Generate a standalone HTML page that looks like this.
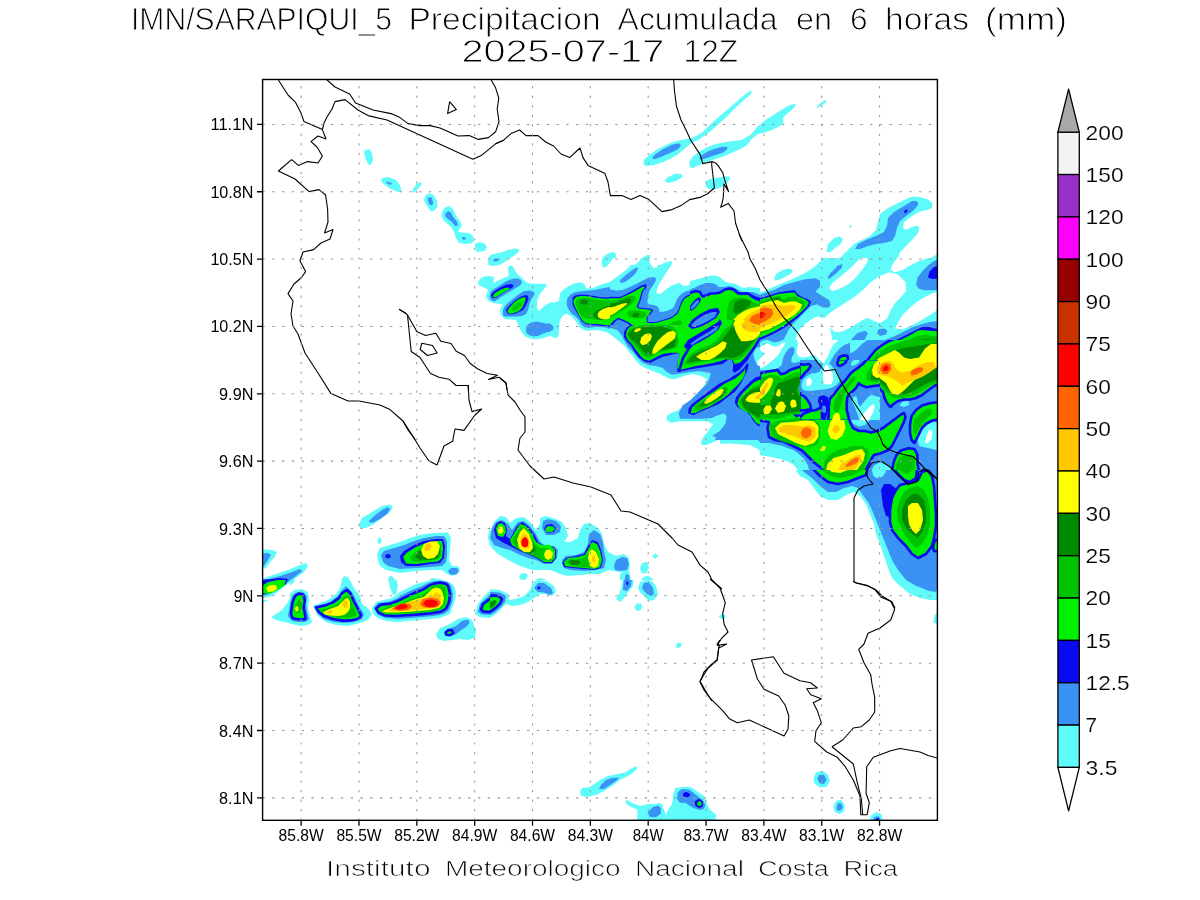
<!DOCTYPE html>
<html><head><meta charset="utf-8"><title>IMN/SARAPIQUI_5 Precipitacion Acumulada</title>
<style>
html,body{margin:0;padding:0;background:#fff;width:1200px;height:900px;overflow:hidden}
svg{display:block}
.gh{stroke:#999;stroke-width:1.05;stroke-dasharray:2.4 7.4;stroke-dashoffset:0.2}
.gv{stroke:#999;stroke-width:1.05;stroke-dasharray:2.2 7.31;stroke-dashoffset:0.4}
text{paint-order:normal}
</style></head><body>
<svg width="1200" height="900" viewBox="0 0 1200 900">
<defs><clipPath id="tc0"><rect x="260.00" y="78.00" width="240.00" height="180.00"/></clipPath><clipPath id="tc4"><rect x="260.00" y="430.00" width="230.00" height="150.00"/><rect x="260.00" y="580.00" width="30.00" height="20.00"/></clipPath><clipPath id="tc5"><rect x="490.00" y="430.00" width="230.00" height="150.00"/></clipPath><clipPath id="tc6"><rect x="290.00" y="580.00" width="200.00" height="20.00"/><rect x="260.00" y="600.00" width="230.00" height="100.00"/></clipPath><clipPath id="tc7"><rect x="490.00" y="580.00" width="230.00" height="120.00"/></clipPath><clipPath id="tc8"><rect x="500.00" y="78.00" width="240.00" height="180.00"/></clipPath><clipPath id="tc10"><rect x="470.00" y="250.00" width="80.00" height="90.00"/></clipPath><clipPath id="tc11"><rect x="550.00" y="250.00" width="60.00" height="90.00"/><rect x="610.00" y="250.00" width="30.00" height="15.00"/></clipPath><clipPath id="tc12"><rect x="610.00" y="265.00" width="80.00" height="60.00"/></clipPath><clipPath id="tc13"><rect x="640.00" y="250.00" width="50.00" height="15.00"/><rect x="690.00" y="250.00" width="70.00" height="70.00"/></clipPath><clipPath id="tc14"><rect x="610.00" y="325.00" width="80.00" height="15.00"/><rect x="690.00" y="320.00" width="70.00" height="20.00"/><rect x="600.00" y="340.00" width="160.00" height="100.00"/></clipPath><clipPath id="tc16"><rect x="740.00" y="78.00" width="240.00" height="180.00"/></clipPath><clipPath id="tc18"><rect x="760.00" y="258.00" width="180.00" height="82.00"/></clipPath><clipPath id="tc19"><rect x="850.00" y="340.00" width="90.00" height="130.00"/><rect x="760.00" y="405.00" width="90.00" height="65.00"/></clipPath><clipPath id="tc20"><rect x="760.00" y="340.00" width="90.00" height="65.00"/></clipPath><clipPath id="tc22"><rect x="720.00" y="440.00" width="40.00" height="170.00"/><rect x="760.00" y="470.00" width="180.00" height="140.00"/></clipPath><clipPath id="tc25"><rect x="800.00" y="360.00" width="80.00" height="60.00"/></clipPath><clipPath id="mc"><rect x="262.60" y="79.50" width="674.80" height="740.80"/></clipPath></defs>
<rect width="1200" height="900" fill="#fff"/>
<g clip-path="url(#mc)">
<g fill="#5ffbfb"><path d="M365.0 150.0 L369.6 149.0 L372.0 153.0 L373.0 160.0 L370.4 165.6 L368.0 164.0 L365.0 157.0 L364.0 152.0ZM382.0 178.0 L388.0 177.0 L396.0 180.0 L400.0 185.0 L401.6 191.6 L398.0 192.0 L390.0 188.4 L383.0 183.6 L381.0 180.4ZM413.0 189.0 L417.0 183.6 L420.0 182.0 L422.0 184.0 L419.0 187.6 L414.0 193.0 L412.4 192.0ZM425.0 196.0 L429.0 193.0 L433.6 195.0 L437.0 201.0 L437.6 207.0 L434.0 211.0 L431.0 211.6 L427.0 206.0 L424.0 200.0ZM442.0 212.0 L445.0 207.6 L449.6 206.0 L453.0 209.0 L456.0 216.0 L460.0 221.0 L462.0 226.0 L460.0 228.0 L458.0 232.0 L462.0 232.4 L469.0 233.0 L473.0 236.0 L474.0 241.0 L471.0 243.6 L465.0 244.0 L459.0 243.0 L456.0 238.0 L454.0 232.0 L451.0 227.0 L448.0 224.0 L444.0 221.0 L441.6 216.0ZM475.0 243.6 L480.0 242.0 L485.0 244.0 L487.0 247.6 L484.0 251.0 L478.0 250.4 L475.0 248.0ZM490.0 260.0 L490.0 258.0 L492.0 255.0 L497.0 254.0 L502.0 253.6 L502.0 260.0Z" clip-path="url(#tc0)"/><path d="M359.0 524.0 L362.0 518.0 L372.0 512.0 L382.0 506.0 L390.0 504.4 L393.0 507.0 L390.0 512.0 L382.0 518.0 L374.0 524.0 L366.0 528.0 L360.0 528.0ZM377.6 540.0 L379.0 537.4 L381.0 538.0 L381.6 542.0 L379.6 544.0 L377.6 543.0ZM377.0 554.0 L380.0 548.0 L390.0 545.0 L400.0 542.0 L410.0 538.0 L420.0 535.0 L432.0 533.0 L448.0 532.4 L451.0 538.0 L450.0 550.0 L449.0 560.0 L452.0 566.0 L458.0 566.0 L460.0 570.0 L458.0 574.0 L452.0 576.0 L447.0 574.0 L442.0 570.0 L430.0 570.0 L416.0 571.0 L400.0 573.0 L386.0 570.0 L380.0 566.0 L378.0 560.0ZM258.0 550.0 L266.0 549.6 L272.0 550.0 L277.0 552.0 L274.0 558.0 L270.0 562.0 L266.0 568.0 L258.0 570.0ZM258.0 582.0 L264.0 578.0 L276.0 574.0 L288.0 570.0 L300.0 565.0 L306.0 563.0 L308.0 566.0 L304.0 572.0 L296.0 578.0 L288.0 584.0 L280.0 590.0 L272.0 596.0 L264.0 598.0 L258.0 599.0ZM288.0 612.0 L290.0 596.0 L296.0 590.0 L303.0 591.0 L308.0 596.0 L309.0 612.0ZM318.0 612.0 L320.0 602.0 L330.0 598.0 L338.0 590.0 L340.0 582.0 L344.0 576.0 L348.0 577.0 L352.0 584.0 L356.0 590.0 L360.0 594.0 L362.0 612.0ZM372.0 612.0 L376.0 604.0 L388.0 598.0 L400.0 594.0 L412.0 590.0 L424.0 584.0 L432.0 578.0 L440.0 579.0 L450.0 582.0 L456.0 588.0 L458.0 596.0 L460.0 612.0ZM388.0 578.0 L391.0 575.6 L394.0 578.0 L398.0 588.0 L397.0 594.0 L393.0 593.0 L390.0 586.0ZM488.0 538.0 L490.0 524.0 L496.0 516.0 L502.0 514.0 L502.0 554.0 L496.0 550.0 L490.0 546.0Z" clip-path="url(#tc4)"/><path d="M488.0 542.0 L490.0 532.0 L494.0 522.0 L500.0 516.0 L506.0 517.0 L510.0 523.0 L516.0 518.0 L524.0 517.0 L530.0 522.0 L536.0 530.0 L540.0 524.0 L540.0 518.0 L546.0 516.0 L556.0 519.0 L562.0 522.0 L566.0 528.0 L568.0 536.0 L564.0 542.0 L570.0 542.0 L578.0 538.0 L580.0 530.0 L584.0 524.0 L590.0 523.0 L598.0 528.0 L602.0 534.0 L604.0 544.0 L608.0 552.0 L616.0 556.0 L624.0 554.0 L629.0 558.0 L630.0 568.0 L629.0 570.0 L620.0 572.0 L608.0 570.0 L600.0 574.0 L592.0 574.0 L580.0 575.0 L568.0 576.0 L560.0 574.0 L550.0 570.0 L544.0 570.0 L532.0 570.0 L520.0 566.0 L508.0 560.0 L498.0 554.0 L492.0 548.0ZM532.0 586.0 L534.0 580.0 L540.0 578.0 L548.0 580.0 L554.0 586.0 L555.0 592.0 L550.0 596.0 L542.0 596.0 L535.0 592.0ZM620.0 574.0 L624.0 570.0 L629.0 570.0 L631.0 580.0 L630.0 590.0 L628.0 598.0 L622.0 602.0 L618.0 598.0 L619.0 588.0 L620.0 580.0ZM571.6 545.0 L573.0 543.4 L575.0 544.4 L574.0 546.6 L572.0 546.6ZM519.0 577.0 L521.0 573.6 L526.0 573.2 L528.0 576.0 L525.6 579.6 L521.0 580.0ZM652.0 556.4 L655.0 553.6 L658.4 556.0 L655.6 559.0ZM640.0 568.0 L642.0 563.0 L647.0 562.0 L649.0 568.0 L646.0 573.6 L641.6 573.0ZM639.0 586.0 L642.0 578.0 L648.0 575.6 L654.0 580.0 L658.0 590.0 L656.0 600.0 L650.0 602.0 L644.0 598.0 L640.0 592.0ZM634.0 612.0 L636.0 605.0 L640.0 603.0 L642.4 606.0 L641.6 612.0ZM701.0 442.0 L704.0 436.0 L712.0 432.0 L720.0 429.0 L722.0 429.0 L722.0 438.0 L714.0 442.0 L706.0 445.0 L702.0 445.0ZM478.0 602.0 L484.0 594.0 L492.0 591.0 L502.0 592.0 L508.0 596.0 L506.0 602.0 L500.0 606.0 L492.0 612.0 L478.0 612.0ZM508.0 612.0 L514.0 604.0 L526.0 599.0 L536.0 597.0 L546.0 598.0 L556.0 602.0 L564.0 606.0 L568.0 612.0Z" clip-path="url(#tc5)"/><path d="M258.0 578.0 L296.0 578.0 L294.0 582.0 L288.0 588.0 L280.0 594.0 L272.0 599.0 L264.0 602.0 L258.0 604.0ZM271.0 617.0 L276.0 614.0 L282.0 610.0 L288.0 602.0 L290.0 594.0 L294.0 590.0 L302.0 589.0 L308.0 592.0 L309.0 600.0 L308.0 608.0 L310.0 616.0 L312.0 622.0 L308.0 625.0 L300.0 626.0 L292.0 624.0 L284.0 622.0 L276.0 620.0ZM313.0 606.0 L318.0 604.0 L328.0 600.0 L336.0 594.0 L340.0 588.0 L342.0 580.0 L350.0 580.0 L354.0 588.0 L360.0 596.0 L362.0 604.0 L368.0 608.0 L372.0 614.0 L368.0 620.0 L360.0 623.0 L348.0 626.0 L336.0 625.0 L326.0 622.0 L318.0 616.0ZM372.0 608.0 L376.0 602.0 L384.0 600.0 L392.0 598.0 L400.0 592.0 L408.0 588.0 L416.0 584.0 L424.0 582.0 L430.0 580.4 L436.0 579.4 L444.0 580.4 L451.0 583.0 L454.0 586.0 L456.0 592.0 L455.0 600.0 L452.0 608.0 L450.0 614.0 L440.0 618.0 L430.0 619.0 L420.0 620.0 L408.0 621.0 L396.0 622.0 L386.0 621.0 L378.0 618.0 L373.0 614.0ZM436.0 634.0 L440.0 628.0 L448.0 625.0 L458.0 619.0 L466.0 617.0 L472.0 620.0 L476.0 630.0 L475.0 638.0 L468.0 640.0 L460.0 639.0 L452.0 640.0 L444.0 641.0 L438.0 639.0ZM475.0 614.0 L478.0 604.0 L484.0 596.0 L490.0 591.0 L502.0 588.0 L502.0 618.0 L490.0 618.0 L480.0 617.0ZM388.0 578.0 L396.0 578.0 L398.0 586.0 L396.0 594.0 L393.0 595.0 L390.0 588.0Z" clip-path="url(#tc6)"/><path d="M478.0 620.0 L478.0 600.0 L484.0 594.0 L490.0 589.0 L500.0 590.0 L508.0 594.0 L509.0 600.0 L516.0 599.0 L524.0 596.0 L530.0 590.0 L533.0 582.0 L538.0 580.0 L546.0 581.0 L554.0 586.0 L556.0 592.0 L552.0 596.0 L546.0 594.0 L540.0 594.0 L534.0 598.0 L528.0 602.0 L520.0 605.0 L512.0 606.0 L506.0 604.0 L502.0 608.0 L496.0 614.0 L488.0 619.0ZM616.0 599.0 L620.0 592.0 L622.0 584.0 L623.0 578.0 L634.0 578.0 L633.0 586.0 L628.0 592.0 L624.0 598.0 L620.0 602.0ZM638.0 588.0 L640.0 582.0 L646.0 580.0 L652.0 581.0 L656.0 586.0 L658.0 594.0 L654.0 600.0 L649.0 601.0 L644.0 596.0 L640.0 592.0ZM634.4 607.0 L637.0 603.6 L641.0 603.6 L642.4 607.0 L640.0 610.4 L636.0 610.4ZM676.0 645.0 L678.0 642.4 L681.0 643.0 L681.6 646.0 L679.0 648.0 L676.4 647.6Z" clip-path="url(#tc7)"/><path d="M664.4 181.0 L668.0 177.0 L676.0 173.6 L682.0 174.4 L682.4 177.0 L676.0 181.0 L668.0 183.0ZM705.6 183.0 L708.0 179.6 L716.0 178.0 L724.0 176.4 L730.0 176.4 L730.0 179.0 L727.0 183.0 L722.0 187.0 L716.0 189.0 L710.0 189.4 L706.0 187.0ZM500.0 254.0 L506.0 251.0 L514.0 248.4 L519.0 249.6 L517.0 253.6 L512.0 257.0 L508.0 259.0 L500.0 259.0ZM603.0 259.0 L606.0 255.0 L612.0 252.4 L615.6 253.6 L616.0 259.0ZM643.0 259.0 L647.0 255.6 L650.0 255.0 L650.4 259.0Z" clip-path="url(#tc8)"/><path d="M643.3 164.0 L644.0 160.0 L649.3 154.7 L658.7 148.7 L668.0 144.0 L677.3 140.7 L684.0 139.6 L693.3 137.6 L702.7 132.0 L712.0 122.7 L721.3 114.7 L730.7 106.7 L740.0 98.7 L746.7 93.3 L750.7 90.4 L752.0 92.0 L750.0 95.3 L744.0 100.0 L736.0 107.3 L726.7 116.7 L717.3 125.3 L708.0 133.3 L700.0 138.7 L692.0 142.7 L685.3 148.0 L677.3 154.7 L670.7 158.7 L661.3 162.7 L653.3 165.3 L645.3 166.0ZM689.6 167.3 L689.3 161.3 L692.7 156.7 L698.7 152.0 L706.7 147.3 L716.0 144.0 L725.3 142.0 L736.0 140.7 L741.3 140.0 L750.7 134.7 L757.3 126.7 L766.7 119.3 L780.0 110.7 L789.3 105.3 L795.3 103.7 L795.7 106.0 L790.7 110.7 L785.3 115.3 L782.7 118.7 L783.7 122.7 L780.0 126.0 L772.0 130.0 L764.0 132.7 L758.0 134.0 L752.0 138.7 L746.7 145.3 L741.3 148.7 L732.0 152.7 L722.7 156.7 L714.7 159.3 L706.7 162.0 L698.7 165.3 L693.3 168.0Z"/><path d="M475.0 249.5 L475.0 250.0 L476.0 251.5 L480.0 251.8 L486.0 250.5 L486.5 249.5ZM488.5 265.0 L488.0 261.0 L489.0 257.0 L491.5 254.5 L496.0 253.5 L501.0 252.5 L505.0 251.2 L508.0 249.5 L520.0 249.5 L518.0 252.0 L514.0 255.0 L510.0 258.0 L506.0 261.0 L502.0 263.5 L498.0 265.5 L493.0 266.0 L489.5 265.5ZM478.0 282.0 L480.0 279.0 L484.0 276.5 L488.5 276.0 L492.5 276.5 L494.0 278.0 L493.8 281.0 L493.2 283.0 L497.0 281.5 L501.0 279.0 L504.5 277.5 L508.5 276.2 L508.5 273.0 L508.0 268.0 L509.5 265.2 L512.5 266.0 L514.5 269.5 L516.5 273.0 L519.0 275.5 L522.0 278.0 L525.0 281.0 L528.0 283.0 L532.0 283.8 L540.0 283.8 L546.5 284.2 L547.0 285.5 L544.5 288.5 L541.5 292.0 L539.5 295.0 L538.0 298.0 L537.0 301.0 L537.2 306.0 L537.2 310.0 L539.5 310.5 L542.0 308.0 L546.0 304.8 L550.0 302.8 L555.0 302.5 L558.0 301.0 L560.0 298.0 L561.0 292.0 L565.0 290.0 L565.0 341.0 L557.0 338.0 L554.0 337.5 L551.0 336.0 L546.0 337.0 L540.0 339.0 L535.0 339.5 L530.0 338.5 L526.0 337.0 L523.0 334.0 L520.0 329.0 L518.0 324.0 L516.0 320.0 L512.0 319.5 L508.0 319.5 L504.0 318.5 L501.0 315.0 L500.0 311.0 L501.0 307.0 L503.0 304.0 L500.0 304.0 L496.0 303.5 L492.0 302.5 L488.5 301.0 L486.5 298.5 L486.0 295.5 L487.5 292.0 L488.0 289.5 L485.0 288.0 L481.0 286.5 L478.5 285.0Z" clip-path="url(#tc10)"/><path d="M601.5 263.0 L602.0 259.0 L604.5 256.0 L609.0 253.0 L613.5 252.0 L615.5 253.5 L614.0 257.0 L611.0 261.0 L608.0 265.0 L605.0 267.5 L602.5 267.0ZM549.0 302.0 L554.0 302.5 L559.0 301.0 L560.0 293.0 L563.0 290.0 L568.0 286.5 L574.0 283.5 L579.0 282.5 L583.0 283.0 L585.5 286.0 L586.0 288.5 L590.0 288.5 L594.0 287.5 L600.0 285.0 L606.0 283.0 L612.0 281.5 L618.0 279.0 L622.0 276.0 L627.0 271.5 L632.0 267.5 L637.0 263.0 L642.0 259.0 L647.0 256.0 L649.0 255.5 L649.5 262.0 L651.0 265.5 L654.0 267.5 L658.0 265.0 L662.0 262.5 L666.0 261.0 L670.0 260.5 L671.0 260.5 L671.0 341.0 L619.0 341.0 L616.0 338.0 L612.0 335.0 L606.0 332.0 L600.0 330.5 L594.0 330.0 L588.0 331.0 L584.0 330.0 L580.0 327.5 L577.0 323.0 L574.0 319.0 L571.0 316.0 L567.0 314.0 L564.0 314.5 L561.0 318.0 L559.5 323.0 L559.0 330.0 L558.5 336.0 L557.0 338.0 L554.0 337.5 L551.0 336.0 L549.0 335.0Z" clip-path="url(#tc11)"/><path d="M609.3 264.3 L690.7 264.3 L690.7 325.7 L609.3 325.7Z" clip-path="url(#tc12)"/><path d="M639.0 259.5 L640.0 259.0 L646.0 255.5 L650.0 255.0 L649.5 261.0 L651.0 266.0 L655.0 268.0 L660.0 265.0 L666.0 262.0 L672.0 261.0 L671.5 266.0 L668.0 272.0 L664.0 279.0 L660.0 285.0 L656.5 291.0 L657.0 294.0 L660.0 295.0 L666.0 292.0 L672.0 289.5 L677.0 287.5 L680.0 286.0 L682.0 284.0 L690.0 281.0 L698.0 279.0 L705.0 277.0 L710.0 275.8 L715.0 275.5 L720.0 277.0 L723.0 280.0 L726.0 282.0 L730.0 283.0 L736.0 284.0 L741.0 287.0 L744.0 288.0 L748.0 287.0 L753.0 287.5 L761.0 288.0 L761.0 341.0 L639.0 341.0Z" clip-path="url(#tc13)"/><path d="M598.7 318.7 L761.3 318.7 L761.3 441.3 L702.7 441.3 L702.7 438.7 L705.3 434.7 L709.3 429.3 L713.3 424.0 L706.7 421.3 L698.7 421.3 L690.7 421.3 L680.0 421.3 L670.7 422.7 L666.7 420.0 L666.7 416.0 L670.7 413.3 L677.3 410.7 L685.3 405.3 L690.7 400.0 L696.0 394.7 L701.3 389.3 L705.3 384.0 L706.7 378.7 L701.3 376.0 L693.3 374.0 L686.7 375.3 L680.0 377.3 L674.7 379.3 L669.3 378.7 L664.0 376.0 L658.7 373.3 L653.3 371.3 L646.7 368.7 L640.0 365.3 L634.7 358.7 L629.3 352.0 L624.0 345.3 L617.3 340.0 L610.7 334.7 L604.0 330.7 L598.7 329.3Z" clip-path="url(#tc14)"/><path d="M816.4 107.6 L820.0 103.6 L824.0 100.4 L827.0 100.4 L825.0 103.0 L820.0 106.4 L817.0 108.0ZM826.4 252.0 L828.0 244.0 L834.0 238.0 L840.0 236.4 L843.0 239.0 L841.0 244.0 L835.0 248.0 L830.0 252.4ZM840.0 260.0 L840.0 258.0 L848.0 250.0 L854.0 244.0 L862.0 240.0 L870.0 236.0 L876.0 230.0 L878.0 222.0 L880.0 214.0 L888.0 208.0 L900.0 202.0 L912.0 196.4 L920.0 197.0 L928.0 199.6 L932.4 203.0 L932.0 208.0 L927.0 210.0 L920.0 211.6 L912.0 216.0 L904.0 222.0 L903.0 227.0 L905.0 230.0 L910.0 228.0 L916.0 225.6 L919.6 227.6 L918.0 233.0 L912.0 240.0 L906.0 246.0 L900.0 252.0 L898.0 258.0 L898.0 260.0ZM930.0 260.0 L932.0 257.0 L936.0 255.0 L940.0 253.6 L940.0 260.0ZM849.0 227.0 L850.4 225.0 L852.0 226.0 L850.6 228.0Z" clip-path="url(#tc16)"/><path d="M758.5 238.5 L941.5 238.5 L941.5 346.5 L758.5 346.5Z" clip-path="url(#tc18)"/><path d="M758.5 333.5 L941.5 333.5 L941.5 471.5 L758.5 471.5Z" clip-path="url(#tc19)"/><path d="M749.2 329.2 L850.8 329.2 L850.8 405.8 L749.2 405.8Z" clip-path="url(#tc20)"/><path d="M698.0 428.0 L942.0 428.0 L942.0 600.0 L930.0 600.0 L920.0 598.0 L910.0 594.0 L900.0 586.0 L892.0 578.0 L888.0 568.0 L884.0 556.0 L880.0 544.0 L876.0 534.0 L874.0 524.0 L870.0 514.0 L866.0 504.0 L860.0 496.0 L854.0 492.0 L848.0 494.0 L838.0 500.0 L828.0 500.0 L820.0 496.0 L814.0 488.0 L808.0 480.0 L800.0 476.0 L792.0 466.0 L780.0 458.0 L770.0 456.0 L762.0 452.0 L756.0 448.0 L750.0 445.0 L730.0 443.6 L712.0 444.0 L702.0 444.4 L698.0 444.4Z" clip-path="url(#tc22)"/><path d="M718.7 616.5 L721.3 614.1 L724.8 614.7 L725.3 617.9 L722.1 619.2ZM900.0 578.7 L904.0 585.3 L912.0 592.0 L922.7 597.3 L933.3 600.0 L940.0 598.7 L940.0 578.7ZM933.3 622.7 L934.7 614.7 L940.0 610.7 L940.0 624.0ZM813.3 778.7 L816.0 772.5 L822.7 770.7 L828.0 774.7 L829.9 781.3 L826.7 786.7 L820.0 787.5 L814.7 784.0ZM833.3 806.7 L836.0 800.8 L841.3 800.0 L844.8 805.3 L844.0 811.5 L839.5 813.9 L834.7 812.0ZM869.3 822.7 L870.7 816.0 L876.0 812.0 L881.3 814.1 L883.2 822.7ZM637.3 806.7 L648.0 804.0 L658.7 804.0 L664.0 809.3 L666.7 817.3 L672.0 809.3 L673.3 793.3 L677.3 788.0 L688.0 786.7 L696.0 790.7 L704.0 796.0 L708.0 806.7 L712.0 812.0 L716.0 816.0 L714.7 822.7 L637.3 822.7Z"/><path d="M580.0 792.0 L582.0 788.0 L590.0 787.0 L600.0 780.0 L608.0 776.0 L618.0 774.0 L626.0 772.0 L632.0 768.0 L636.0 766.0 L637.6 768.0 L634.0 772.0 L628.0 776.0 L620.0 780.0 L612.0 786.0 L604.0 791.0 L596.0 795.0 L586.0 797.0 L581.0 795.6ZM625.0 802.0 L627.0 800.0 L632.0 803.0 L640.0 806.0 L648.0 807.0 L654.0 804.0 L660.0 803.0 L663.0 805.0 L662.4 811.0 L658.0 814.4 L652.0 815.0 L644.0 813.0 L636.0 809.0 L629.0 806.0ZM666.0 815.0 L668.0 810.0 L672.0 804.0 L674.0 794.0 L675.0 788.0 L684.0 787.0 L692.0 787.6 L696.0 791.0 L700.0 794.0 L704.0 798.0 L707.0 804.0 L710.0 810.0 L714.0 813.0 L717.0 816.0 L714.0 818.0 L710.0 815.0 L706.0 812.0 L700.0 812.0 L694.0 810.0 L688.0 806.0 L682.0 804.0 L678.0 808.0 L676.0 814.0 L674.0 819.0 L669.0 819.0Z"/></g><g fill="#ffffff"><path d="M609.3 264.3 L630.3 264.3 L628.7 267.7 L624.7 271.0 L619.3 275.0 L614.0 279.0 L609.3 282.0ZM651.0 264.3 L653.3 267.7 L656.7 267.7 L658.3 264.3ZM672.0 264.3 L668.7 269.0 L666.0 273.0 L662.7 278.3 L659.3 283.7 L656.7 289.7 L656.7 293.0 L660.0 294.3 L663.3 291.7 L667.3 288.3 L671.3 285.7 L675.3 284.3 L678.7 283.0 L681.3 283.7 L682.7 285.7 L686.7 285.7 L690.7 285.0 L690.7 264.3Z" clip-path="url(#tc12)"/><path d="M761.3 358.7 L758.0 360.0 L757.3 364.0 L759.3 366.7 L761.3 367.3Z" clip-path="url(#tc14)"/><path d="M758.5 238.5 L826.8 238.5 L826.0 246.0 L826.8 252.8 L823.0 258.0 L817.0 264.8 L811.0 269.2 L805.0 273.0 L799.0 276.0 L793.0 278.7 L787.0 281.2 L778.0 285.0 L769.0 288.8 L763.0 291.8 L758.5 292.5ZM842.5 238.5 L843.2 243.0 L845.5 247.5 L850.0 249.0 L854.5 247.5 L856.0 243.0 L856.8 238.5ZM829.0 288.0 L832.0 283.5 L841.0 276.0 L850.0 268.5 L859.0 259.5 L865.0 255.0 L868.0 256.5 L867.2 262.5 L862.0 270.0 L854.5 279.0 L847.0 285.0 L838.0 289.5 L832.0 291.0ZM824.5 318.0 L829.0 313.5 L838.0 307.5 L847.0 301.5 L854.5 297.0 L863.5 289.5 L871.0 282.0 L880.0 276.0 L889.0 272.2 L898.0 274.5 L905.5 282.0 L906.2 291.0 L901.0 297.0 L895.0 303.0 L890.5 310.5 L887.5 318.0 L880.0 323.2 L874.0 321.0 L868.0 318.0 L863.5 319.5 L857.5 323.2 L850.0 327.8 L842.5 331.5 L835.0 332.2 L829.0 327.0 L826.0 322.5ZM910.0 238.5 L908.5 243.0 L904.0 249.0 L899.5 255.0 L895.0 261.0 L892.0 265.5 L890.5 270.0 L895.0 272.2 L902.5 270.0 L910.0 265.5 L919.0 261.0 L928.0 258.0 L938.5 255.0 L938.5 238.5ZM895.0 328.5 L898.0 322.5 L902.5 315.0 L910.0 307.5 L917.5 301.5 L925.0 297.0 L932.5 293.2 L938.5 291.8 L938.5 309.0 L932.5 313.5 L925.0 318.0 L917.5 322.5 L910.0 326.2 L902.5 329.2ZM794.5 346.5 L796.0 337.5 L799.0 330.0 L805.0 324.0 L811.0 319.5 L817.0 316.5 L824.5 318.0 L827.5 324.0 L830.5 330.0 L832.0 337.5 L830.5 346.5Z" clip-path="url(#tc18)"/><path d="M925.0 447.0 L927.0 440.0 L932.0 435.0 L942.0 433.0 L942.0 446.0 L932.0 449.0Z" clip-path="url(#tc22)"/></g><g fill="#5ffbfb"><path d="M774.2 278.2 L776.5 273.8 L782.5 270.0 L790.0 268.5 L793.0 270.8 L790.8 273.8 L785.5 276.8 L779.5 279.8 L775.0 280.5Z" clip-path="url(#tc18)"/></g><g fill="#3a92f5"><path d="M386.0 181.6 L392.0 183.0 L391.0 185.0 L387.0 183.6ZM427.6 197.6 L431.6 197.6 L433.2 203.0 L432.0 205.4 L429.0 204.0 L428.0 200.4ZM445.0 214.0 L448.0 211.0 L451.0 212.4 L453.0 217.0 L457.0 221.6 L458.0 225.6 L455.0 226.0 L452.0 222.0 L448.0 219.0 L445.6 217.0ZM462.0 237.0 L465.0 237.0 L466.0 239.6 L462.4 239.6Z" clip-path="url(#tc0)"/><path d="M369.0 521.0 L374.0 516.0 L382.0 510.0 L388.0 507.0 L390.0 509.0 L387.0 514.0 L380.0 519.0 L373.0 522.4 L370.0 522.4ZM381.0 555.0 L384.0 551.0 L394.0 548.0 L404.0 545.0 L414.0 541.0 L424.0 538.0 L436.0 536.0 L444.0 536.0 L447.0 541.0 L447.0 554.0 L446.0 562.0 L442.0 566.0 L430.0 567.0 L416.0 568.0 L400.0 569.0 L388.0 566.0 L383.0 562.0ZM448.0 571.0 L451.0 568.0 L457.0 568.0 L459.0 571.0 L456.0 574.4 L450.0 574.4ZM258.0 554.0 L268.0 553.0 L271.0 555.0 L268.0 560.0 L264.0 566.0 L258.0 568.0ZM258.0 582.0 L268.0 579.0 L280.0 576.0 L292.0 572.0 L300.0 569.0 L302.0 571.0 L296.0 576.0 L288.0 582.0 L280.0 588.0 L272.0 593.0 L264.0 596.0 L258.0 597.0ZM290.0 612.0 L292.0 598.0 L298.0 593.0 L303.0 594.0 L306.0 600.0 L307.0 612.0ZM324.0 612.0 L328.0 604.0 L336.0 600.0 L340.0 592.0 L344.0 584.0 L348.0 586.0 L352.0 592.0 L356.0 598.0 L358.0 612.0ZM376.0 612.0 L382.0 606.0 L392.0 602.0 L404.0 598.0 L416.0 593.0 L426.0 587.0 L432.0 582.0 L440.0 582.0 L448.0 586.0 L453.0 592.0 L454.0 602.0 L455.0 612.0ZM492.0 538.0 L494.0 526.0 L498.0 520.0 L502.0 518.0 L502.0 550.0 L496.0 546.0Z" clip-path="url(#tc4)"/><path d="M490.0 538.0 L492.0 528.0 L496.0 522.0 L502.0 520.0 L508.0 524.0 L512.0 530.0 L518.0 522.0 L524.0 521.0 L530.0 526.0 L536.0 534.0 L540.0 542.0 L546.0 546.0 L554.0 546.0 L558.0 550.0 L557.0 558.0 L552.0 564.0 L544.0 564.0 L536.0 560.0 L528.0 558.0 L518.0 554.0 L510.0 550.0 L502.0 548.0 L494.0 545.0ZM542.0 528.0 L543.0 521.0 L548.0 519.0 L556.0 521.0 L561.0 526.0 L560.0 532.0 L554.0 535.0 L546.0 535.0ZM562.0 560.0 L566.0 556.0 L576.0 555.0 L584.0 552.0 L588.0 544.0 L589.0 534.0 L594.0 530.0 L600.0 534.0 L603.0 542.0 L604.0 552.0 L606.0 560.0 L604.0 568.0 L596.0 570.0 L584.0 571.0 L570.0 570.0 L564.0 568.0ZM614.0 566.0 L616.0 560.0 L622.0 557.0 L627.0 558.0 L629.0 564.0 L627.0 570.0 L620.0 571.0 L615.0 570.0ZM624.0 582.0 L626.0 574.0 L629.0 575.0 L630.0 584.0 L628.0 590.0 L625.0 590.0ZM533.0 588.0 L536.0 582.0 L542.0 581.0 L549.0 584.0 L552.0 589.0 L549.0 593.0 L541.0 593.0 L536.0 592.0ZM642.0 586.0 L644.0 581.0 L649.0 581.0 L654.0 588.0 L655.0 596.0 L651.0 599.0 L646.0 596.0 L643.0 591.0ZM712.0 436.0 L718.0 432.0 L722.0 431.0 L722.0 437.0 L716.0 437.0ZM482.0 604.0 L488.0 596.0 L496.0 594.0 L503.0 596.0 L502.0 601.0 L496.0 605.0 L488.0 612.0 L480.0 612.0Z" clip-path="url(#tc5)"/><path d="M258.0 578.0 L288.0 578.0 L284.0 584.0 L276.0 591.0 L268.0 596.0 L258.0 599.0ZM288.0 616.0 L290.0 604.0 L292.0 596.0 L296.0 592.4 L303.0 592.0 L307.0 596.0 L306.0 604.0 L307.0 612.0 L309.0 619.0 L305.0 622.0 L298.0 622.0 L292.0 621.0ZM314.0 606.0 L320.0 605.0 L330.0 602.0 L338.0 596.0 L342.0 590.0 L346.0 586.0 L352.0 592.0 L356.0 600.0 L360.0 608.0 L364.0 614.0 L362.0 619.0 L354.0 622.0 L344.0 623.0 L334.0 622.0 L324.0 619.0 L317.0 613.0ZM374.0 608.0 L378.0 603.0 L388.0 602.0 L396.0 599.0 L404.0 594.0 L412.0 590.0 L420.0 587.0 L428.0 583.0 L432.0 581.6 L440.0 580.8 L448.0 582.0 L451.0 586.0 L453.0 594.0 L452.0 602.0 L449.0 610.0 L444.0 614.0 L434.0 616.0 L422.0 617.0 L410.0 618.0 L398.0 619.0 L386.0 618.0 L378.0 615.0ZM444.0 633.0 L448.0 629.0 L456.0 626.0 L462.0 621.0 L468.0 619.6 L469.6 623.0 L466.0 627.0 L460.0 631.0 L455.0 635.0 L448.0 636.0 L445.0 635.6ZM478.0 612.0 L480.0 604.0 L486.0 598.0 L492.0 594.0 L502.0 592.0 L502.0 614.0 L492.0 615.0 L482.0 614.4Z" clip-path="url(#tc6)"/><path d="M478.0 616.0 L478.0 602.0 L484.0 597.0 L490.0 592.0 L500.0 592.4 L506.0 596.0 L505.0 602.0 L500.0 608.0 L494.0 613.0 L486.0 617.0ZM534.0 588.0 L538.0 583.0 L544.0 583.0 L551.0 588.0 L553.0 593.0 L550.0 595.0 L544.0 592.4 L538.0 592.0ZM623.0 590.0 L624.0 578.0 L632.0 578.0 L631.0 586.0 L627.0 591.0ZM642.0 588.0 L644.0 583.0 L649.0 582.4 L653.0 588.0 L654.0 594.0 L651.0 596.0 L647.0 594.0 L644.0 591.0Z" clip-path="url(#tc7)"/><path d="M652.0 158.0 L654.7 154.7 L662.7 149.3 L672.0 144.7 L678.7 143.3 L681.1 145.3 L678.7 148.7 L670.7 152.7 L661.3 156.7 L654.7 159.3ZM699.3 158.7 L700.7 156.0 L706.7 152.0 L714.7 148.7 L722.7 146.7 L727.3 146.9 L727.3 149.3 L722.7 152.7 L714.7 155.3 L706.7 158.0 L701.3 159.7Z"/><path d="M493.0 260.0 L495.5 258.5 L499.0 258.8 L498.5 260.8 L495.5 261.5 L493.5 260.8ZM490.0 294.5 L490.5 292.0 L494.0 289.0 L499.0 286.0 L504.0 282.5 L509.0 280.0 L514.0 278.5 L518.0 278.5 L521.0 280.0 L522.0 283.0 L520.0 285.5 L516.0 288.0 L511.0 291.0 L506.0 294.0 L501.0 297.0 L497.0 300.0 L494.0 301.5 L491.0 300.0 L489.5 297.0ZM503.0 315.0 L503.0 310.0 L505.0 306.0 L509.0 302.0 L514.0 298.0 L519.0 294.0 L524.0 291.0 L530.0 290.5 L534.0 292.0 L534.5 295.0 L532.0 298.0 L530.0 302.0 L529.0 306.0 L528.0 310.0 L526.0 314.0 L522.0 316.0 L517.0 316.5 L512.0 316.5 L507.0 316.5 L504.0 316.5ZM526.0 330.0 L526.5 326.0 L530.0 323.0 L536.0 321.5 L541.0 322.5 L546.0 323.5 L551.0 323.5 L553.0 326.0 L553.5 329.0 L551.0 331.5 L546.0 332.5 L542.0 334.0 L538.0 336.0 L533.0 336.5 L529.0 335.0 L526.5 333.0Z" clip-path="url(#tc10)"/><path d="M549.0 324.0 L551.5 324.5 L553.5 327.0 L553.0 330.0 L551.0 331.0 L549.0 331.0ZM620.0 282.0 L622.0 279.0 L627.0 275.0 L632.0 271.0 L636.5 267.5 L638.0 268.5 L637.0 272.0 L634.0 276.0 L630.0 279.0 L626.0 281.5 L622.0 282.8ZM566.5 303.0 L567.5 298.0 L571.0 294.0 L576.0 292.0 L583.0 291.0 L590.0 290.5 L597.0 289.5 L604.0 288.0 L610.0 287.0 L615.0 286.0 L620.0 284.0 L626.0 282.0 L632.0 280.0 L638.0 278.0 L644.0 276.0 L646.0 275.5 L646.0 341.0 L622.0 341.0 L620.0 339.0 L618.0 336.0 L616.0 333.0 L614.0 331.0 L610.0 329.0 L605.0 327.5 L600.0 327.0 L594.0 327.0 L588.0 328.0 L584.0 327.0 L581.0 324.0 L579.0 320.0 L576.0 317.0 L572.0 314.0 L569.0 310.0 L567.0 306.0Z" clip-path="url(#tc11)"/><path d="M619.3 281.7 L621.3 279.0 L626.7 274.3 L632.0 270.3 L636.7 267.3 L638.0 268.3 L636.7 271.7 L633.3 275.7 L629.3 279.0 L625.3 281.7 L622.0 283.0ZM609.3 289.0 L616.7 290.7 L623.3 289.7 L630.0 287.0 L636.7 283.7 L643.3 280.3 L648.0 278.0 L653.3 277.0 L656.0 278.0 L655.7 281.0 L653.3 285.0 L650.0 289.7 L648.7 293.0 L648.0 297.0 L647.3 302.3 L648.7 304.3 L653.3 305.0 L657.3 306.3 L659.3 309.0 L659.3 311.7 L663.3 311.7 L668.7 310.3 L673.3 307.7 L675.3 303.7 L676.7 299.7 L679.3 295.7 L682.7 293.0 L686.7 291.0 L690.7 290.3 L690.7 325.7 L609.3 325.7Z" clip-path="url(#tc12)"/><path d="M639.0 283.0 L640.0 282.0 L646.0 278.5 L650.0 277.5 L655.0 278.0 L656.0 280.0 L655.0 284.0 L651.0 289.0 L648.0 293.0 L647.5 298.0 L648.0 303.0 L651.0 305.0 L653.0 308.0 L652.0 311.0 L650.0 314.0 L656.0 315.0 L664.0 314.0 L670.0 312.0 L675.0 308.0 L678.0 302.0 L678.0 296.0 L682.0 293.0 L688.0 290.0 L694.0 288.0 L700.0 285.0 L706.0 283.0 L712.0 283.0 L716.0 284.5 L719.0 287.0 L724.0 287.0 L729.0 286.0 L733.0 287.0 L737.0 289.0 L740.0 291.0 L743.0 292.0 L748.0 292.0 L753.0 292.0 L758.0 294.0 L761.0 295.0 L761.0 341.0 L639.0 341.0Z" clip-path="url(#tc13)"/><path d="M598.7 318.7 L761.3 318.7 L761.3 346.7 L756.0 348.0 L753.3 353.3 L754.7 360.0 L757.3 365.3 L761.3 366.7 L761.3 441.3 L714.7 441.3 L716.0 436.0 L720.0 430.7 L725.3 424.0 L726.7 416.0 L724.0 413.3 L720.0 414.7 L716.0 416.0 L712.0 418.0 L701.3 418.7 L690.7 418.7 L680.0 418.7 L678.7 413.3 L682.7 405.3 L690.7 400.0 L696.0 394.7 L701.3 389.3 L706.7 384.0 L709.3 378.7 L710.7 373.3 L706.7 372.0 L698.7 371.3 L690.7 372.0 L682.7 373.3 L677.3 374.0 L672.0 374.7 L666.7 372.0 L662.7 368.0 L656.0 366.0 L649.3 365.3 L642.7 362.7 L637.3 357.3 L633.3 352.0 L628.0 346.7 L624.0 340.0 L621.3 334.7 L617.3 330.0 L610.7 328.0 L604.0 327.3 L598.7 325.3Z" clip-path="url(#tc14)"/><path d="M855.0 249.0 L858.0 244.0 L866.0 240.0 L876.0 236.0 L884.0 232.0 L887.0 226.0 L888.0 218.0 L894.0 212.0 L904.0 206.0 L912.0 201.0 L917.0 201.0 L918.4 204.4 L914.0 210.0 L906.0 216.0 L900.0 221.0 L897.0 228.0 L895.0 236.0 L892.0 241.0 L884.0 243.0 L876.0 244.0 L868.0 246.0 L860.0 249.0Z" clip-path="url(#tc16)"/><path d="M758.5 295.5 L766.0 292.5 L775.0 289.5 L784.0 285.0 L794.5 282.0 L805.0 279.3 L815.5 278.2 L820.0 280.5 L820.0 286.5 L815.5 291.8 L821.5 295.5 L829.0 300.0 L830.5 304.5 L829.0 307.5 L823.0 307.5 L817.0 304.5 L811.0 306.0 L805.0 312.0 L799.0 318.0 L793.0 324.0 L788.5 330.0 L785.5 336.0 L782.5 342.0 L778.0 346.5 L758.5 346.5ZM827.5 277.5 L830.5 273.0 L838.0 265.5 L842.5 264.0 L841.8 267.8 L835.0 274.5 L829.0 279.0ZM854.5 249.0 L856.0 244.5 L865.0 241.5 L874.0 238.5 L892.0 238.5 L889.0 243.0 L883.0 246.0 L874.0 248.2 L865.0 249.8 L857.5 250.5ZM916.0 285.0 L917.5 277.5 L922.0 271.5 L928.0 265.5 L934.0 261.0 L941.5 258.0 L941.5 289.5 L932.5 290.2 L925.0 290.2 L919.0 288.8ZM850.0 346.5 L851.5 339.0 L857.5 333.0 L865.0 330.8 L868.0 333.0 L865.0 339.0 L862.0 346.5ZM877.0 333.0 L878.5 329.2 L884.5 328.5 L887.5 330.8 L886.0 334.5 L880.0 336.0ZM877.0 346.5 L880.0 342.0 L887.5 339.0 L895.0 336.0 L904.0 331.5 L913.0 327.0 L922.0 324.0 L931.0 321.8 L941.5 321.0 L941.5 346.5Z" clip-path="url(#tc18)"/><path d="M758.5 333.5 L941.5 333.5 L941.5 471.5 L758.5 471.5Z" clip-path="url(#tc19)"/><path d="M760.0 329.2 L788.3 329.2 L787.9 334.2 L785.8 337.5 L782.5 340.0 L778.3 341.7 L774.2 342.5 L770.8 341.2 L767.5 339.6 L763.3 340.4 L760.0 342.5ZM760.0 370.0 L766.7 370.0 L773.3 369.2 L778.3 367.9 L781.7 365.0 L783.3 357.5 L785.8 352.5 L789.2 348.3 L792.5 346.7 L794.6 348.8 L794.2 353.3 L791.7 357.5 L791.2 361.7 L794.2 362.9 L798.3 362.1 L802.5 360.4 L807.5 359.6 L811.7 360.4 L815.0 363.3 L816.7 366.7 L820.0 367.5 L823.3 365.0 L826.7 362.5 L830.0 360.8 L832.5 358.3 L834.2 355.0 L836.7 351.7 L840.0 348.3 L844.2 345.0 L850.8 342.5 L850.8 405.8 L760.0 405.8Z" clip-path="url(#tc20)"/><path d="M698.0 428.0 L942.0 428.0 L942.0 591.0 L928.0 590.0 L916.0 586.0 L906.0 580.0 L898.0 570.0 L892.0 560.0 L888.0 550.0 L884.0 540.0 L880.0 530.0 L876.0 520.0 L872.0 510.0 L868.0 502.0 L862.0 494.0 L858.0 488.0 L852.0 486.0 L844.0 488.0 L836.0 492.0 L828.0 492.0 L820.0 486.0 L812.0 478.0 L804.0 472.0 L796.0 464.0 L784.0 456.0 L772.0 452.0 L764.0 446.0 L758.0 440.0 L748.0 436.0 L730.0 434.0 L710.0 435.0 L698.0 436.0Z" clip-path="url(#tc22)"/><path d="M912.0 578.7 L917.3 585.3 L928.0 590.7 L936.0 592.0 L940.0 578.7ZM817.3 778.7 L819.2 774.7 L824.0 774.7 L826.7 779.5 L824.0 784.0 L819.5 783.2ZM836.5 806.7 L838.1 802.9 L841.6 803.5 L842.7 808.0 L840.0 810.9 L836.8 809.9ZM872.5 822.7 L874.1 817.3 L878.7 816.0 L881.3 822.7ZM677.3 798.7 L680.0 792.0 L688.0 790.7 L696.0 794.7 L702.7 800.0 L705.3 806.7 L701.3 809.3 L693.3 808.0 L685.3 802.7 L680.0 802.7ZM648.0 812.0 L653.3 806.7 L660.0 808.0 L661.3 813.3 L656.0 817.3 L649.3 816.8Z"/><path d="M599.0 789.0 L601.0 785.0 L606.0 780.0 L612.0 778.0 L619.0 777.6 L616.0 781.0 L610.0 785.0 L604.0 789.0ZM651.0 811.0 L653.0 807.0 L658.0 805.6 L661.0 808.0 L659.6 812.4 L655.0 814.4 L652.0 813.6ZM677.0 798.0 L678.0 792.0 L682.0 789.0 L689.0 789.6 L694.0 793.0 L697.0 797.0 L702.0 799.0 L705.0 804.0 L704.0 809.0 L699.0 810.0 L694.0 808.0 L689.0 804.0 L683.0 802.0 L679.0 802.0Z"/></g><g fill="#5ffbfb"><path d="M758.5 338.0 L769.0 336.5 L782.5 335.0 L794.5 333.5 L844.0 333.5 L844.0 341.0 L841.0 350.0 L836.5 357.5 L833.5 363.5 L838.0 372.5 L839.5 380.0 L835.0 387.5 L827.5 390.5 L820.0 389.0 L812.5 390.5 L805.0 387.5 L800.5 380.0 L799.0 372.5 L796.0 369.5 L790.0 368.0 L782.5 369.5 L775.0 371.0 L767.5 371.0 L758.5 371.0ZM847.0 402.5 L850.0 396.5 L854.5 395.0 L862.0 393.5 L871.0 392.0 L878.5 393.5 L880.0 398.0 L877.0 405.5 L874.0 413.0 L871.0 419.0 L865.0 425.0 L859.0 426.5 L853.0 423.5 L848.5 416.0 L847.8 408.5ZM917.5 440.0 L919.0 431.0 L923.5 425.0 L929.5 422.0 L935.5 422.0 L941.5 425.0 L941.5 452.0 L932.5 449.0 L925.0 447.5 L919.0 446.0ZM899.5 405.5 L902.5 401.8 L908.5 401.0 L909.2 404.8 L904.0 407.0ZM758.5 443.0 L769.0 443.0 L782.5 446.0 L794.5 450.5 L803.5 458.0 L808.0 465.5 L809.5 471.5 L758.5 471.5ZM871.0 471.5 L874.0 465.5 L880.0 462.5 L886.0 464.0 L890.5 467.0 L892.0 471.5ZM844.0 333.5 L874.0 333.5 L868.0 339.5 L862.0 344.0 L856.0 350.0 L851.5 353.0 L847.0 351.5 L844.8 344.0Z" clip-path="url(#tc19)"/><path d="M800.0 387.5 L801.7 382.5 L804.2 378.3 L807.5 375.4 L810.8 374.2 L814.2 373.3 L816.7 370.0 L819.2 366.7 L822.5 364.2 L826.7 362.9 L830.0 363.3 L832.5 365.8 L834.2 370.0 L836.7 375.0 L837.5 380.0 L836.7 384.2 L834.2 387.5 L830.0 389.2 L825.0 389.2 L821.7 388.3 L818.3 389.2 L813.3 390.0 L808.3 390.0 L803.3 389.6Z" clip-path="url(#tc20)"/><path d="M872.0 470.0 L874.0 464.0 L880.0 462.0 L885.0 465.0 L886.0 472.0 L882.0 477.0 L876.0 478.0 L873.0 475.0Z" clip-path="url(#tc22)"/></g><g fill="#ffffff"><path d="M758.5 345.5 L766.0 343.2 L775.0 341.8 L784.0 341.0 L791.5 342.5 L794.5 348.5 L791.5 354.5 L785.5 359.8 L778.0 362.8 L769.0 363.5 L758.5 363.5ZM797.5 333.5 L841.8 333.5 L840.2 341.0 L835.0 348.5 L830.5 354.5 L826.0 360.5 L821.5 363.5 L815.5 359.0 L809.5 351.5 L803.5 344.0ZM805.0 384.5 L806.5 378.5 L811.0 377.0 L812.5 381.5 L809.5 386.0ZM823.0 368.0 L826.0 364.2 L830.5 365.0 L833.5 371.0 L832.8 380.0 L829.0 384.5 L824.5 384.5 L822.2 378.5ZM862.0 419.0 L863.5 411.5 L868.0 405.5 L872.5 402.5 L874.8 405.5 L872.5 413.0 L868.0 419.0 L864.2 421.2ZM925.0 443.0 L926.5 435.5 L929.5 429.5 L932.5 431.0 L931.8 438.5 L928.0 443.0ZM758.5 455.0 L769.0 456.5 L782.5 459.5 L793.0 464.0 L799.0 471.5 L758.5 471.5Z" clip-path="url(#tc19)"/><path d="M756.7 366.7 L755.8 363.3 L759.2 359.2 L762.5 356.7 L764.2 353.3 L760.8 350.8 L758.3 348.8 L762.5 345.4 L767.5 343.3 L770.8 345.4 L775.0 346.7 L778.3 346.2 L780.8 344.2 L783.3 342.5 L785.8 342.5 L783.3 346.7 L780.8 350.8 L778.3 355.0 L775.0 358.3 L770.8 361.7 L766.7 365.0 L762.5 367.5 L758.3 367.9ZM794.2 329.2 L847.5 329.2 L845.0 332.5 L841.7 336.7 L837.5 340.8 L833.3 345.0 L830.8 349.2 L829.2 353.3 L827.5 357.5 L824.2 361.7 L821.7 362.5 L818.3 359.2 L815.8 355.8 L812.5 355.0 L808.3 356.7 L803.3 357.5 L799.2 356.7 L797.1 354.2 L796.7 350.0 L797.9 345.8 L797.9 342.5 L797.1 340.0 L798.3 338.3 L796.7 335.0ZM823.3 365.8 L825.0 364.2 L827.5 364.6 L829.2 367.5 L830.8 371.7 L832.5 376.7 L832.1 381.7 L830.0 384.2 L826.7 385.0 L824.2 383.3 L823.3 378.3 L822.9 371.7ZM806.0 383.3 L806.7 380.0 L809.2 378.2 L811.7 378.8 L812.1 381.7 L810.4 384.6 L807.9 385.7Z" clip-path="url(#tc20)"/></g><g fill="#0a0af0"><path d="M400.0 556.0 L404.0 551.0 L414.0 545.0 L424.0 541.0 L436.0 539.0 L443.0 539.0 L445.0 546.0 L444.0 558.0 L440.0 563.0 L430.0 564.0 L418.0 566.0 L406.0 566.0 L401.0 562.0ZM385.0 556.0 L387.0 554.0 L390.0 554.4 L391.0 556.4 L389.0 558.4 L386.0 558.0ZM258.0 580.0 L272.0 579.0 L280.0 578.0 L288.0 579.0 L286.0 584.0 L280.0 588.0 L272.0 592.0 L264.0 594.0 L258.0 595.0ZM292.0 612.0 L294.0 600.0 L299.0 596.0 L303.0 598.0 L305.0 604.0 L305.6 612.0ZM330.0 612.0 L332.0 606.0 L338.0 602.0 L342.0 596.0 L346.0 590.0 L350.0 594.0 L354.0 602.0 L355.0 612.0ZM380.0 612.0 L388.0 606.0 L400.0 602.0 L412.0 597.0 L424.0 590.0 L430.0 584.0 L436.0 583.0 L446.0 588.0 L450.0 596.0 L451.0 612.0ZM494.0 538.0 L496.0 528.0 L500.0 523.0 L502.0 522.0 L502.0 548.0 L498.0 545.0Z" clip-path="url(#tc4)"/><path d="M494.0 530.0 L496.0 524.0 L500.0 521.0 L505.0 523.0 L507.0 530.0 L506.0 536.0 L510.0 539.0 L517.0 526.0 L522.0 522.0 L528.0 526.0 L534.0 534.0 L538.0 542.0 L544.0 546.0 L552.0 546.0 L556.0 550.0 L556.0 558.0 L552.0 563.0 L544.0 563.0 L538.0 559.0 L530.0 555.0 L520.0 551.0 L510.0 546.0 L502.0 542.0 L496.0 538.0ZM544.0 529.0 L546.0 525.0 L552.0 524.0 L556.0 528.0 L554.0 532.0 L548.0 533.0ZM562.0 563.0 L566.0 558.0 L576.0 556.0 L584.0 554.0 L588.0 546.0 L592.0 540.0 L598.0 542.0 L601.0 550.0 L603.0 560.0 L601.0 568.0 L594.0 570.0 L584.0 569.0 L572.0 568.0 L564.0 567.0ZM484.0 606.0 L490.0 598.0 L497.0 595.0 L501.0 597.0 L499.0 602.0 L492.0 607.0 L486.0 612.0Z" clip-path="url(#tc5)"/><path d="M537.0 588.0 L539.0 586.0 L541.0 588.0 L539.0 589.6ZM626.0 584.0 L627.0 581.0 L628.4 582.0 L628.0 585.6Z" clip-path="url(#tc7)"/><path d="M491.0 295.0 L493.0 292.0 L497.0 289.5 L502.0 286.5 L507.0 284.5 L511.0 284.0 L513.5 285.0 L513.0 287.0 L509.0 289.5 L504.0 292.5 L500.0 295.0 L496.5 297.5 L494.0 298.5 L492.0 297.5ZM506.0 310.0 L508.0 307.0 L512.0 303.0 L517.0 299.0 L522.0 296.0 L526.0 295.0 L528.0 296.0 L528.5 299.0 L527.0 303.0 L525.0 307.0 L523.0 310.0 L519.0 312.0 L514.0 314.0 L510.0 314.5 L507.0 313.0Z" clip-path="url(#tc10)"/><path d="M572.5 298.0 L575.0 295.5 L580.0 294.5 L588.0 295.0 L594.0 296.0 L600.0 297.0 L606.0 297.5 L612.0 297.0 L618.0 295.5 L624.0 293.0 L630.0 290.0 L636.0 287.0 L642.0 284.5 L646.0 284.5 L646.0 341.0 L622.0 341.0 L622.5 335.0 L625.0 330.0 L629.0 326.0 L631.0 324.5 L626.0 322.0 L621.0 319.0 L618.0 318.0 L615.0 320.0 L612.0 324.0 L609.0 327.0 L604.0 326.0 L598.0 325.5 L592.0 325.0 L587.0 324.5 L584.0 323.0 L581.0 320.0 L579.0 316.0 L577.0 313.0 L574.0 308.0 L572.5 304.0Z" clip-path="url(#tc11)"/><path d="M609.3 296.7 L620.0 297.0 L626.7 293.7 L633.3 290.3 L640.0 286.3 L644.7 284.3 L646.7 285.0 L646.3 287.7 L643.3 291.0 L642.0 295.0 L640.7 300.3 L638.7 305.0 L638.0 306.7 L640.0 307.7 L646.7 308.3 L651.3 309.0 L653.3 310.3 L651.3 313.0 L648.7 316.3 L647.3 319.7 L648.0 321.7 L651.3 322.3 L656.7 321.7 L663.3 319.7 L670.0 317.7 L673.3 315.7 L676.7 313.0 L678.7 309.0 L680.0 305.0 L682.0 300.3 L684.7 297.0 L688.0 295.0 L690.7 294.3 L690.7 325.7 L609.3 325.7Z" clip-path="url(#tc12)"/><path d="M639.0 285.0 L640.0 284.5 L645.0 284.0 L647.0 286.0 L645.0 290.0 L643.0 296.0 L641.0 302.0 L642.0 306.0 L646.0 308.0 L652.0 309.0 L653.0 312.0 L651.0 315.0 L648.0 320.0 L649.0 322.0 L655.0 321.5 L663.0 320.0 L670.0 318.0 L675.0 315.0 L679.0 311.0 L680.0 306.0 L681.0 302.0 L683.0 298.0 L687.0 295.0 L692.0 293.0 L696.0 292.0 L699.0 293.0 L700.0 296.0 L702.0 298.0 L706.0 296.0 L710.0 294.5 L716.0 294.5 L720.0 294.0 L725.0 291.0 L730.0 290.0 L734.0 291.0 L737.0 294.0 L740.0 292.5 L745.0 292.0 L748.0 292.5 L751.0 294.0 L756.0 296.5 L761.0 298.0 L761.0 341.0 L639.0 341.0Z" clip-path="url(#tc13)"/><path d="M598.7 318.7 L761.3 318.7 L761.3 336.0 L758.7 342.7 L754.7 349.3 L749.3 357.3 L748.0 360.0 L744.0 364.0 L740.0 369.3 L734.7 372.7 L732.7 371.3 L733.3 364.0 L731.3 358.7 L728.0 360.0 L722.7 364.0 L714.7 365.3 L706.7 366.7 L698.7 368.0 L690.7 369.3 L684.0 370.7 L678.7 372.0 L676.7 368.7 L677.3 364.0 L679.3 358.7 L680.0 354.7 L677.3 353.3 L670.7 354.9 L662.7 356.7 L656.0 360.0 L649.3 363.3 L644.0 361.3 L638.7 357.3 L634.7 352.0 L630.7 345.3 L626.7 341.3 L624.0 337.3 L624.0 332.0 L626.7 327.3 L632.0 324.0 L632.0 318.7 L613.3 318.7 L613.3 322.7 L605.3 325.3 L598.7 326.0ZM688.0 413.3 L688.7 408.0 L692.0 404.0 L697.3 400.0 L702.7 396.0 L708.0 392.0 L713.3 388.0 L718.7 384.0 L724.0 381.3 L729.3 378.7 L733.3 376.0 L738.7 372.7 L744.0 368.0 L747.3 362.7 L748.7 365.3 L746.7 372.0 L744.0 377.3 L741.3 382.7 L738.7 386.7 L734.7 392.0 L729.3 396.0 L724.0 400.0 L718.7 404.0 L712.0 406.7 L706.7 409.3 L700.0 412.0 L693.3 415.3ZM734.7 402.7 L736.0 397.3 L740.0 392.0 L745.3 386.7 L750.7 381.3 L756.0 377.3 L761.3 376.0 L761.3 426.7 L757.3 425.3 L753.3 421.3 L750.7 416.0 L746.7 412.0 L741.3 409.3 L737.3 406.7Z" clip-path="url(#tc14)"/><path d="M904.0 211.0 L907.0 209.0 L907.6 211.6 L905.0 213.6Z" clip-path="url(#tc16)"/><path d="M758.5 298.5 L769.0 295.5 L778.0 292.5 L787.0 291.0 L794.5 290.2 L797.5 294.0 L802.0 297.0 L808.0 299.2 L811.0 301.5 L809.5 306.0 L803.5 312.0 L797.5 318.0 L791.5 322.5 L785.5 327.0 L778.0 331.5 L769.0 336.0 L758.5 340.5ZM928.0 277.5 L929.5 271.5 L934.0 267.0 L941.5 264.8 L941.5 278.2 L932.5 279.0ZM886.0 346.5 L890.5 342.0 L898.0 339.0 L907.0 334.5 L916.0 330.0 L922.0 327.0 L929.5 327.0 L934.0 328.5 L941.5 328.5 L941.5 346.5Z" clip-path="url(#tc18)"/><path d="M838.0 361.2 L840.2 356.8 L844.8 355.2 L848.5 357.5 L847.8 362.8 L843.2 365.8 L839.5 365.0Z" clip-path="url(#tc19)"/><path d="M819.2 405.8 L820.0 396.7 L823.3 395.8 L827.5 396.7 L828.8 400.8 L828.3 405.8Z" clip-path="url(#tc20)"/><path d="M881.0 490.0 L884.0 484.0 L890.0 484.0 L898.0 490.0 L900.0 500.0 L897.0 510.0 L892.0 518.0 L886.0 516.0 L883.0 506.0Z" clip-path="url(#tc22)"/><path d="M682.7 793.3 L686.7 792.0 L690.7 794.7 L688.0 797.3 L684.0 796.5ZM694.7 801.3 L698.7 798.7 L702.7 801.3 L702.7 806.7 L698.7 808.0 L695.2 805.3ZM874.7 822.7 L876.0 818.7 L879.5 818.1 L880.5 822.7Z"/><path d="M683.0 794.0 L685.0 792.4 L689.0 793.0 L690.0 795.6 L687.0 797.0 L683.6 796.4ZM695.0 803.0 L698.0 799.6 L702.0 801.0 L703.0 805.0 L700.0 807.6 L696.0 806.6Z"/></g><g fill="#00f000" stroke="#0a0af0" stroke-width="2.6" stroke-linejoin="round"><path d="M258.0 578.0 L284.0 578.0 L280.0 586.0 L274.0 592.0 L266.0 596.0 L258.0 597.0ZM291.0 613.6 L292.6 602.0 L295.0 596.0 L299.0 593.6 L303.2 594.8 L304.8 600.0 L303.6 608.0 L305.2 615.2 L305.4 619.2 L297.0 619.2 L292.4 618.0ZM316.0 607.6 L325.0 605.6 L333.0 602.4 L338.4 598.4 L342.4 592.8 L347.0 590.0 L350.8 594.0 L353.6 601.0 L357.6 608.4 L361.0 615.4 L359.0 618.4 L351.0 620.4 L343.0 620.6 L333.0 619.0 L324.0 616.0 L319.0 612.0ZM376.0 608.6 L381.0 604.6 L391.0 603.6 L399.0 600.4 L407.0 596.4 L415.0 592.8 L423.0 589.6 L429.0 585.6 L434.0 583.6 L440.0 582.6 L445.6 583.6 L448.0 586.0 L450.0 594.0 L449.0 602.0 L446.0 608.6 L441.0 611.6 L431.0 613.2 L419.0 614.4 L407.0 615.2 L395.0 616.0 L384.0 615.2 L378.4 612.4ZM481.0 609.6 L483.0 604.0 L489.0 599.6 L495.0 597.0 L502.0 596.0 L502.0 611.0 L492.0 612.0 L483.6 611.6ZM445.6 632.4 L448.4 630.0 L452.0 630.4 L453.2 633.0 L450.0 635.2 L446.4 634.8Z" clip-path="url(#tc6)"/><path d="M478.0 613.0 L478.0 605.0 L484.0 600.0 L492.0 595.4 L498.4 596.0 L502.0 599.0 L500.0 603.8 L495.0 608.4 L489.0 612.4 L482.0 614.0Z" clip-path="url(#tc7)"/><path d="M639.0 286.5 L640.0 286.0 L644.0 286.0 L645.0 288.0 L643.0 294.0 L641.5 301.0 L642.5 304.5 L647.0 306.5 L652.5 307.5 L654.5 311.0 L652.0 315.0 L650.0 319.0 L651.0 320.5 L656.0 320.0 L663.0 318.5 L669.0 316.5 L674.0 314.0 L677.5 310.0 L678.5 306.0 L679.5 301.5 L682.0 297.5 L686.0 294.5 L691.0 292.5 L696.0 291.0 L700.0 292.0 L701.5 295.0 L703.0 296.5 L707.0 295.0 L711.0 293.5 L716.0 293.2 L720.0 292.5 L725.0 289.5 L730.0 288.5 L734.5 290.0 L737.5 293.0 L741.0 294.0 L746.0 293.5 L749.0 294.0 L751.0 296.0 L756.0 299.0 L761.0 300.0 L761.0 341.0 L639.0 341.0Z" clip-path="url(#tc13)"/><path d="M758.5 372.5 L769.0 371.0 L778.0 372.5 L782.5 375.5 L790.0 372.5 L799.0 368.0 L808.0 365.0 L810.2 368.0 L805.0 374.0 L799.0 380.0 L796.0 387.5 L799.0 392.0 L805.0 395.0 L812.5 396.5 L820.0 395.0 L823.0 398.0 L826.0 401.0 L830.5 398.0 L833.5 393.5 L838.0 389.0 L842.5 384.5 L847.0 380.0 L851.5 375.5 L856.0 372.5 L860.5 368.0 L865.0 363.5 L869.5 357.5 L875.5 350.0 L881.5 345.5 L889.0 341.0 L896.5 338.0 L904.0 335.0 L910.0 333.5 L941.5 333.5 L941.5 383.0 L934.0 386.0 L928.0 390.5 L922.0 395.0 L916.0 398.0 L910.0 399.5 L904.0 399.5 L898.0 401.0 L893.5 404.0 L890.5 407.0 L887.5 404.0 L884.5 398.0 L883.0 392.0 L878.5 387.5 L874.0 386.0 L868.0 384.5 L862.0 383.0 L857.5 384.5 L853.0 389.0 L850.0 395.0 L847.0 402.5 L848.5 413.0 L850.0 422.0 L853.0 428.0 L859.0 431.0 L865.0 431.0 L871.0 432.5 L877.0 431.0 L883.0 428.0 L889.0 423.5 L895.0 419.0 L901.0 414.5 L904.0 413.0 L905.5 416.8 L904.0 422.0 L901.0 428.0 L898.0 434.0 L895.0 440.0 L892.0 446.0 L887.5 450.5 L880.0 453.5 L874.0 455.0 L871.0 459.5 L868.0 465.5 L865.0 471.5 L824.5 471.5 L820.0 467.0 L814.0 462.5 L808.0 456.5 L802.0 450.5 L793.0 446.0 L784.0 441.5 L775.0 440.0 L769.0 437.0 L767.5 428.0 L769.0 422.0 L758.5 420.5ZM910.0 425.0 L911.5 416.0 L916.0 410.0 L922.0 405.5 L929.5 403.2 L941.5 401.8 L941.5 419.0 L932.5 420.5 L926.5 423.5 L922.0 428.0 L919.0 434.0 L916.0 440.0 L914.5 443.0 L911.5 440.0 L910.0 432.5ZM892.0 471.5 L893.5 462.5 L896.5 455.0 L901.0 450.5 L908.5 448.2 L914.5 449.0 L917.5 455.0 L917.5 464.0 L919.0 471.5Z" clip-path="url(#tc19)"/><path d="M760.0 373.3 L766.7 371.7 L773.3 370.8 L777.5 370.0 L780.8 374.2 L785.0 373.3 L790.0 370.0 L795.0 368.3 L800.0 366.7 L805.0 365.0 L809.2 364.2 L810.0 366.7 L807.5 371.7 L804.2 376.7 L800.0 381.7 L796.7 386.7 L795.8 390.0 L798.3 393.3 L801.7 396.7 L805.0 399.2 L808.3 401.7 L810.0 405.8 L760.0 405.8ZM828.3 405.8 L830.0 401.7 L833.3 396.7 L837.5 391.7 L841.7 386.7 L845.8 381.7 L850.8 377.5 L850.8 405.8ZM837.5 361.7 L839.2 357.5 L843.3 355.4 L847.5 355.8 L847.9 359.2 L845.0 363.3 L840.8 365.8 L838.3 365.0Z" clip-path="url(#tc20)"/><path d="M766.0 428.0 L766.0 436.0 L772.0 442.0 L780.0 448.0 L790.0 452.0 L800.0 458.0 L810.0 466.0 L820.0 476.0 L828.0 482.0 L838.0 484.0 L848.0 482.0 L858.0 478.0 L866.0 475.0 L868.0 468.0 L872.0 460.0 L876.0 452.0 L882.0 444.0 L888.0 438.0 L894.0 432.0 L895.0 428.0ZM892.0 462.0 L896.0 452.0 L902.0 448.0 L910.0 447.0 L914.0 450.0 L916.0 460.0 L917.0 470.0 L916.0 478.0 L910.0 482.0 L904.0 480.0 L898.0 474.0 L894.0 469.0ZM890.0 510.0 L892.0 498.0 L896.0 490.0 L900.0 485.0 L908.0 483.0 L918.0 480.0 L922.0 472.0 L928.0 470.0 L932.0 476.0 L934.0 486.0 L935.0 500.0 L936.0 514.0 L936.0 526.0 L934.0 538.0 L932.0 546.0 L926.0 554.0 L918.0 558.0 L912.0 554.0 L906.0 546.0 L898.0 538.0 L892.0 530.0 L890.0 522.0ZM933.0 546.0 L935.0 540.0 L942.0 539.0 L942.0 552.0 L934.0 551.0Z" clip-path="url(#tc22)"/></g><g fill="#00f000"><path d="M403.0 557.0 L407.0 552.4 L416.0 547.0 L426.0 543.0 L436.0 541.0 L442.0 541.0 L443.0 548.0 L442.0 558.0 L438.0 561.6 L428.0 562.4 L416.0 564.0 L406.0 563.6ZM258.0 558.0 L263.0 559.0 L264.0 562.0 L258.0 563.0ZM262.0 586.0 L268.0 582.0 L278.0 580.0 L286.0 580.0 L284.0 586.0 L276.0 591.0 L268.0 594.0 L263.0 593.0ZM293.0 612.0 L295.0 602.0 L299.0 598.0 L302.4 599.6 L304.0 605.0 L304.4 612.0ZM334.0 612.0 L338.0 605.0 L343.0 600.0 L348.0 596.0 L351.0 602.0 L352.0 612.0ZM384.0 612.0 L392.0 607.0 L404.0 603.0 L416.0 598.0 L426.0 592.0 L432.0 587.0 L438.0 586.0 L444.0 590.0 L447.0 598.0 L448.0 612.0ZM496.0 538.0 L498.0 530.0 L502.0 526.0 L502.0 546.0 L499.0 544.0Z" clip-path="url(#tc4)"/><path d="M496.0 529.0 L498.0 524.0 L502.0 523.0 L505.0 526.0 L506.0 532.0 L503.0 537.0 L498.0 536.0ZM510.0 540.0 L515.0 532.0 L520.0 524.0 L526.0 526.0 L532.0 534.0 L536.0 542.0 L542.0 545.0 L550.0 545.0 L555.0 550.0 L555.0 558.0 L551.0 562.0 L544.0 562.0 L538.0 558.0 L530.0 554.0 L520.0 550.0 L512.0 545.0ZM545.0 529.0 L548.0 526.0 L553.0 526.4 L555.0 529.0 L552.0 532.0 L547.0 532.0ZM564.0 562.0 L568.0 558.0 L578.0 557.0 L585.0 555.0 L589.0 548.0 L592.0 542.0 L597.0 544.0 L600.0 551.0 L602.0 560.0 L600.0 567.0 L594.0 569.0 L584.0 568.0 L572.0 567.0 L565.0 566.0ZM486.0 608.0 L492.0 600.0 L498.0 597.0 L500.0 599.0 L497.0 604.0 L490.0 612.0Z" clip-path="url(#tc5)"/><path d="M493.0 295.5 L495.0 293.0 L500.0 290.0 L505.0 288.0 L508.5 287.5 L509.5 288.5 L508.0 290.0 L504.0 292.0 L500.0 294.5 L497.0 296.5 L494.5 297.8 L493.5 297.0ZM507.5 310.5 L510.0 307.0 L514.0 302.5 L519.0 299.0 L523.0 297.2 L525.5 297.5 L525.5 300.0 L524.0 304.0 L522.0 308.0 L519.0 311.0 L514.0 313.0 L510.0 313.8 L508.0 312.5Z" clip-path="url(#tc10)"/><path d="M573.5 300.0 L576.0 297.0 L581.0 296.0 L588.0 296.2 L594.0 297.5 L602.0 298.5 L608.0 298.8 L614.0 298.0 L620.0 296.5 L626.0 294.0 L632.0 291.0 L638.0 288.5 L643.5 287.5 L642.5 292.0 L640.5 298.0 L639.0 304.0 L637.5 307.0 L640.0 310.0 L647.0 311.0 L651.0 312.0 L648.0 316.0 L646.0 319.0 L646.0 341.0 L624.0 341.0 L624.5 336.0 L627.0 332.0 L630.0 329.0 L633.0 327.0 L631.0 325.0 L626.0 322.0 L620.0 318.0 L618.0 317.5 L615.0 320.0 L612.0 324.0 L609.0 325.5 L604.0 325.0 L598.0 324.0 L592.0 324.0 L587.0 323.5 L584.0 322.0 L581.5 319.0 L579.0 315.0 L577.0 311.0 L575.0 307.0 L573.7 303.0Z" clip-path="url(#tc11)"/><path d="M609.3 298.3 L620.0 298.3 L627.3 295.0 L634.0 291.7 L640.7 287.7 L644.0 286.3 L644.7 287.7 L642.0 290.7 L640.7 295.0 L639.3 300.3 L637.3 305.0 L636.7 307.0 L639.3 308.7 L646.0 309.3 L650.0 310.0 L651.3 311.0 L649.7 313.3 L647.3 316.3 L646.3 319.7 L647.3 322.7 L651.3 323.3 L656.7 322.7 L663.3 320.7 L670.7 318.7 L674.3 316.3 L677.7 313.7 L679.7 309.3 L681.0 305.3 L683.0 301.0 L685.3 298.0 L688.3 296.3 L690.7 295.7 L690.7 325.7 L609.3 325.7Z" clip-path="url(#tc12)"/><path d="M598.7 318.7 L613.3 318.7 L612.0 322.0 L605.3 324.3 L598.7 325.1ZM633.3 325.3 L640.0 322.7 L650.7 321.3 L660.0 320.0 L669.3 318.7 L761.3 318.7 L761.3 334.7 L757.3 340.0 L753.3 346.7 L749.3 352.0 L745.3 357.3 L740.0 362.7 L734.7 364.0 L730.7 356.0 L726.7 358.7 L720.0 361.3 L712.0 363.3 L704.0 364.7 L696.0 366.0 L688.0 368.0 L682.7 369.3 L678.7 370.7 L677.1 368.0 L677.6 362.7 L678.9 358.7 L680.0 354.9 L678.0 352.7 L670.7 352.7 L662.7 354.0 L656.0 357.3 L649.3 360.7 L644.0 359.3 L640.0 355.3 L636.0 350.0 L632.0 344.0 L628.0 340.0 L626.0 336.0 L626.7 330.7 L629.3 327.3ZM690.7 413.3 L692.0 408.0 L696.0 404.0 L701.3 400.0 L706.7 396.0 L713.3 392.0 L718.7 388.0 L724.0 384.0 L729.3 381.3 L734.7 378.7 L740.0 374.7 L744.0 370.7 L745.3 368.0 L745.3 373.3 L742.7 378.7 L738.7 384.0 L733.3 389.3 L728.0 394.7 L722.7 398.7 L716.0 402.7 L709.3 406.7 L702.7 409.3 L696.0 412.7ZM737.3 404.0 L738.7 398.7 L742.7 393.3 L748.0 388.0 L753.3 382.7 L758.7 380.0 L761.3 379.3 L761.3 425.3 L756.0 422.7 L753.3 418.7 L749.3 413.3 L744.0 410.7 L740.0 408.0Z" clip-path="url(#tc14)"/><path d="M758.5 300.0 L769.0 297.0 L778.0 294.0 L788.5 292.8 L794.5 292.5 L797.5 296.2 L805.0 299.2 L808.8 302.2 L807.2 306.0 L802.0 311.2 L796.0 316.5 L790.0 321.0 L784.0 325.5 L776.5 330.0 L767.5 334.5 L758.5 338.2ZM889.0 346.5 L895.0 342.0 L902.5 339.0 L910.0 335.2 L917.5 330.8 L922.0 330.0 L929.5 330.8 L941.5 331.5 L941.5 346.5Z" clip-path="url(#tc18)"/><path d="M840.2 361.2 L842.2 358.2 L845.5 357.8 L846.7 360.5 L844.0 363.5 L841.0 363.5Z" clip-path="url(#tc19)"/><path d="M697.3 802.7 L700.0 800.8 L701.9 803.5 L700.0 806.1Z"/><path d="M697.0 803.6 L699.0 801.6 L701.4 803.0 L701.0 805.6 L698.6 806.0Z"/></g><g fill="#0a0af0"><path d="M609.3 325.7 L613.3 321.0 L618.0 317.7 L623.3 319.7 L630.0 323.0 L632.7 325.7Z" clip-path="url(#tc12)"/><path d="M689.0 309.0 L690.0 306.0 L693.0 302.0 L696.0 299.0 L699.0 297.0 L701.0 299.0 L700.0 302.0 L697.0 306.0 L694.0 309.0 L691.0 311.0Z" clip-path="url(#tc13)"/><path d="M677.0 372.0 L682.0 357.0 L688.0 347.5 L694.0 340.5 L696.0 342.0 L690.0 349.0 L684.5 358.0 L680.0 372.0ZM688.0 326.0 L692.0 320.0 L700.0 314.0 L710.0 309.0 L718.0 308.0 L720.0 312.0 L716.0 318.0 L708.0 323.0 L700.0 327.0 L692.0 329.0ZM684.0 346.0 L688.0 340.0 L698.0 334.0 L708.0 328.0 L718.0 322.0 L720.0 319.0 L722.0 323.0 L718.0 330.0 L710.0 336.0 L700.0 342.0 L692.0 346.0 L686.0 349.0Z"/><path d="M820.0 401.0 L824.5 398.0 L829.0 401.0 L830.5 410.0 L829.0 417.5 L824.5 419.0 L820.8 414.5 L819.2 407.0ZM793.0 414.5 L796.0 411.5 L800.5 410.8 L803.5 412.2 L800.5 416.0 L796.0 417.5Z" clip-path="url(#tc19)"/></g><g fill="#3a92f5"><path d="M612.0 325.7 L614.7 322.3 L618.0 319.3 L622.7 321.0 L628.7 324.0 L630.0 325.7Z" clip-path="url(#tc12)"/><path d="M690.5 308.0 L692.0 305.5 L695.0 302.0 L697.5 300.0 L699.0 300.5 L698.5 302.5 L696.0 306.0 L693.0 308.5 L691.5 309.5Z" clip-path="url(#tc13)"/><path d="M691.0 325.0 L696.0 320.0 L704.0 315.0 L712.0 312.0 L717.0 312.0 L715.0 317.0 L708.0 321.0 L700.0 325.0 L693.0 327.0ZM690.0 344.0 L698.0 338.0 L708.0 332.4 L716.0 327.0 L719.0 325.0 L717.0 330.0 L709.0 335.0 L700.0 340.0 L692.0 345.0Z"/><path d="M822.2 407.0 L825.2 405.5 L827.5 408.5 L827.5 414.5 L824.5 416.0 L822.2 412.2Z" clip-path="url(#tc19)"/></g><g fill="#00c200"><path d="M410.0 558.0 L414.0 553.0 L420.0 549.0 L428.0 546.0 L436.0 544.0 L441.0 545.0 L441.0 556.0 L436.0 560.0 L426.0 561.0 L416.0 562.0 L412.0 561.0Z" clip-path="url(#tc4)"/><path d="M512.0 541.0 L517.0 532.0 L521.0 526.0 L526.0 528.0 L531.0 536.0 L535.0 544.0 L540.0 548.0 L546.0 548.0 L552.0 551.0 L553.0 558.0 L549.0 561.0 L542.0 560.0 L534.0 556.0 L524.0 552.0 L516.0 547.0ZM566.0 562.0 L570.0 559.0 L578.0 559.0 L584.0 558.0 L589.0 552.0 L592.0 548.0 L596.0 550.0 L599.0 558.0 L598.0 565.0 L592.0 568.0 L582.0 567.0 L572.0 566.0Z" clip-path="url(#tc5)"/><path d="M295.0 610.0 L296.0 604.0 L298.0 600.0 L301.0 599.0 L302.0 604.0 L301.0 610.0 L299.0 613.0 L296.0 613.0ZM321.0 610.0 L328.0 608.0 L336.0 605.0 L341.0 601.0 L345.0 596.0 L348.0 595.0 L351.0 600.0 L353.0 606.0 L356.0 612.0 L356.0 616.0 L348.0 618.0 L340.0 618.0 L330.0 616.0 L324.0 614.0ZM380.0 610.0 L388.0 607.0 L398.0 605.0 L406.0 601.0 L414.0 598.0 L422.0 595.0 L428.0 591.0 L432.0 587.0 L436.0 585.2 L442.0 585.2 L445.0 588.0 L446.0 596.0 L445.0 604.0 L441.0 609.0 L432.0 611.0 L420.0 612.0 L408.0 613.0 L396.0 613.6 L386.0 613.0Z" clip-path="url(#tc6)"/><path d="M511.0 310.0 L513.0 307.0 L517.0 303.5 L521.0 301.5 L522.5 303.0 L521.0 306.0 L518.0 309.0 L514.0 310.5 L511.5 310.8Z" clip-path="url(#tc10)"/><path d="M576.0 302.0 L577.5 299.0 L582.0 298.0 L588.0 298.0 L593.0 299.0 L598.0 300.0 L604.0 300.5 L610.0 300.0 L618.0 299.0 L624.0 297.0 L630.0 295.0 L634.0 294.0 L636.0 296.0 L635.0 300.0 L633.0 303.0 L630.0 305.0 L626.0 306.0 L622.0 307.0 L618.0 310.0 L614.0 313.0 L610.0 316.0 L606.0 319.0 L602.0 320.0 L596.0 320.0 L590.0 319.0 L585.0 318.0 L581.0 315.0 L578.0 310.0 L576.5 306.0ZM627.0 314.0 L629.0 311.0 L633.0 310.0 L637.0 311.0 L641.0 313.0 L644.0 315.0 L643.0 318.0 L638.0 319.0 L632.0 319.0 L628.0 317.0ZM627.5 341.0 L628.0 336.0 L630.0 332.0 L634.0 329.0 L638.0 327.0 L643.0 326.0 L646.0 326.0 L646.0 341.0Z" clip-path="url(#tc11)"/><path d="M609.3 301.0 L616.7 300.3 L623.3 297.7 L630.0 295.7 L634.7 296.3 L636.0 299.0 L633.3 302.3 L628.7 306.3 L623.3 310.3 L616.7 314.3 L609.3 317.7ZM626.7 313.0 L629.3 311.0 L635.3 310.3 L642.0 311.0 L646.0 313.0 L646.0 316.3 L642.0 318.3 L635.3 318.3 L629.3 317.0ZM666.7 325.7 L673.3 321.7 L679.3 320.3 L682.0 321.7 L681.3 325.7Z" clip-path="url(#tc12)"/><path d="M728.0 306.0 L730.0 301.0 L734.0 298.5 L740.0 297.5 L746.0 298.0 L750.0 300.0 L754.0 302.0 L757.0 303.5 L761.0 304.5 L761.0 341.0 L730.0 341.0 L729.0 330.0 L727.0 320.0 L727.0 312.0Z" clip-path="url(#tc13)"/><path d="M626.7 334.7 L629.3 329.3 L634.7 326.7 L642.7 325.3 L653.3 324.0 L661.3 324.0 L669.3 325.3 L674.7 328.0 L677.3 333.3 L678.7 340.0 L677.3 346.7 L672.0 349.3 L664.0 351.3 L657.3 353.3 L650.7 357.3 L645.3 357.3 L640.0 352.0 L634.7 345.3 L629.3 340.0ZM684.0 364.0 L688.0 357.3 L693.3 352.0 L701.3 348.0 L709.3 345.3 L716.0 341.3 L720.0 336.0 L725.3 329.3 L730.7 325.3 L733.3 318.7 L761.3 318.7 L761.3 333.3 L756.0 340.0 L750.7 348.0 L745.3 354.7 L738.7 360.0 L730.7 360.0 L722.7 358.7 L714.7 360.0 L706.7 361.3 L698.7 362.7 L690.7 364.7ZM693.3 410.7 L696.0 405.3 L701.3 401.3 L708.0 397.3 L714.7 393.3 L720.0 389.3 L725.3 386.7 L728.0 388.0 L726.7 393.3 L721.3 398.7 L714.7 402.7 L706.7 406.7 L698.7 410.7ZM738.7 402.7 L741.3 397.3 L746.7 392.0 L753.3 386.7 L761.3 384.0 L761.3 421.3 L756.0 418.7 L750.7 413.3 L744.0 409.3Z" clip-path="url(#tc14)"/><path d="M758.5 301.5 L772.0 297.8 L779.5 295.5 L782.5 299.2 L788.5 297.0 L794.5 296.2 L799.0 298.5 L805.0 301.5 L805.0 306.0 L800.5 310.5 L794.5 315.8 L787.0 321.0 L779.5 325.5 L770.5 330.0 L758.5 334.5ZM895.0 346.5 L902.5 342.0 L910.0 339.0 L917.5 336.0 L925.0 334.5 L932.5 336.0 L941.5 337.5 L941.5 346.5Z" clip-path="url(#tc18)"/><path d="M758.5 377.0 L769.0 375.5 L779.5 378.5 L788.5 377.0 L797.5 374.0 L805.0 371.0 L802.0 378.5 L797.5 386.0 L796.0 393.5 L800.5 398.0 L809.5 401.0 L817.0 401.0 L823.0 404.0 L824.5 413.0 L821.5 419.0 L817.0 419.0 L809.5 416.0 L800.5 414.5 L791.5 414.5 L784.0 417.5 L776.5 419.0 L769.0 419.0 L758.5 419.0ZM769.0 425.0 L778.0 420.5 L790.0 419.0 L802.0 417.5 L814.0 419.0 L820.0 425.0 L820.0 437.0 L817.0 444.5 L809.5 447.5 L797.5 446.0 L787.0 443.0 L778.0 440.0 L772.0 435.5ZM823.0 471.5 L824.5 461.0 L830.5 453.5 L841.0 449.0 L853.0 446.0 L862.0 446.0 L868.0 449.0 L869.5 455.0 L866.5 462.5 L863.5 471.5ZM857.5 380.0 L862.0 372.5 L868.0 365.0 L874.0 357.5 L880.0 351.5 L887.5 347.0 L895.0 344.0 L904.0 341.0 L911.5 338.0 L919.0 336.5 L941.5 335.0 L941.5 381.5 L932.5 384.5 L925.0 389.0 L917.5 393.5 L910.0 396.5 L902.5 398.0 L895.0 398.0 L889.0 395.0 L886.0 392.0 L880.0 386.0 L874.0 383.0 L865.0 381.5ZM913.0 425.0 L914.5 419.0 L919.0 414.5 L925.0 410.0 L931.0 408.5 L932.5 413.0 L928.0 417.5 L923.5 422.0 L919.0 428.0 L916.0 434.0 L913.8 432.5ZM895.0 471.5 L896.5 464.0 L899.5 458.0 L905.5 455.0 L911.5 455.0 L914.5 459.5 L914.5 467.0 L916.0 471.5Z" clip-path="url(#tc19)"/><path d="M760.0 380.0 L763.3 376.7 L769.2 375.0 L775.0 375.0 L779.2 376.7 L781.7 379.2 L785.0 377.5 L789.2 375.0 L793.3 373.3 L798.3 372.5 L803.3 370.0 L807.5 368.3 L806.7 373.3 L803.3 378.3 L800.0 383.3 L798.3 388.3 L800.0 393.3 L805.0 398.3 L808.3 402.5 L810.0 405.8 L760.0 405.8Z" clip-path="url(#tc20)"/><path d="M770.0 428.0 L774.0 436.0 L782.0 442.0 L792.0 447.0 L802.0 453.0 L812.0 461.0 L822.0 470.0 L830.0 476.0 L840.0 478.0 L850.0 476.0 L860.0 472.0 L864.0 466.0 L866.0 458.0 L870.0 450.0 L876.0 442.0 L882.0 434.0 L884.0 428.0ZM898.0 520.0 L897.0 510.0 L900.0 500.0 L904.0 492.0 L910.0 488.0 L918.0 486.0 L924.0 490.0 L928.0 498.0 L930.0 510.0 L930.0 522.0 L928.0 534.0 L922.0 544.0 L916.0 548.0 L910.0 542.0 L904.0 534.0ZM896.0 462.0 L900.0 454.0 L906.0 451.0 L912.0 452.0 L913.0 462.0 L912.0 470.0 L908.0 474.0 L902.0 472.0 L898.0 468.0Z" clip-path="url(#tc22)"/></g><g fill="#008a00"><path d="M415.0 557.0 L418.0 552.0 L424.0 548.0 L432.0 546.0 L438.0 546.0 L440.0 552.0 L438.0 558.0 L430.0 560.0 L420.0 560.0ZM388.0 612.0 L400.0 606.0 L412.0 601.0 L424.0 596.0 L430.0 591.0 L436.0 589.0 L442.0 592.0 L445.0 600.0 L446.0 612.0Z" clip-path="url(#tc4)"/><path d="M516.0 542.0 L520.0 532.0 L524.0 529.0 L529.0 536.0 L533.0 544.0 L536.0 550.0 L532.0 554.0 L524.0 551.0ZM568.0 562.0 L572.0 560.0 L578.0 560.0 L581.0 562.0 L578.0 565.0 L572.0 565.0Z" clip-path="url(#tc5)"/><path d="M484.0 608.0 L490.0 602.0 L495.0 600.0 L497.0 602.0 L493.0 607.0 L487.0 610.0Z" clip-path="url(#tc7)"/><path d="M580.0 302.0 L582.0 299.5 L585.0 299.2 L587.5 300.5 L588.0 303.0 L586.0 304.5 L583.0 304.5 L580.5 303.5ZM593.0 314.0 L596.0 311.0 L602.0 308.0 L608.0 306.0 L614.0 304.5 L620.0 304.0 L626.0 303.0 L630.0 302.0 L631.0 304.0 L628.0 307.0 L622.0 309.0 L616.0 312.0 L611.0 316.0 L607.0 319.0 L602.0 320.0 L597.0 319.0 L594.0 317.0ZM632.0 316.0 L634.0 313.5 L637.0 313.5 L638.0 315.5 L636.0 317.5 L633.0 317.8ZM629.0 340.0 L630.0 336.0 L633.0 332.0 L637.0 330.0 L642.0 329.0 L646.0 329.0 L646.0 341.0 L640.0 341.0 L638.0 338.0 L635.0 337.0 L632.0 338.0 L630.0 341.0Z" clip-path="url(#tc11)"/><path d="M609.3 303.7 L615.3 303.0 L622.0 300.3 L628.0 298.3 L631.3 299.0 L630.7 302.3 L626.7 305.7 L621.3 309.0 L615.3 312.3 L609.3 314.3ZM632.0 315.7 L634.0 313.3 L638.0 313.0 L640.0 314.3 L638.0 317.0 L634.0 317.3Z" clip-path="url(#tc12)"/><path d="M734.0 306.0 L735.0 302.0 L739.0 300.0 L744.0 299.5 L749.0 300.0 L751.0 302.0 L750.0 305.0 L746.0 309.0 L741.0 312.0 L736.0 314.0 L733.5 311.0Z" clip-path="url(#tc13)"/><path d="M628.0 334.7 L630.7 330.7 L636.0 328.0 L644.0 327.3 L653.3 326.7 L662.7 326.7 L670.7 329.3 L674.7 334.7 L676.0 341.3 L674.7 346.7 L669.3 348.7 L661.3 350.0 L654.7 352.0 L650.7 354.7 L646.7 354.7 L641.3 349.3 L636.0 342.7 L630.7 338.7ZM686.7 362.7 L690.7 357.3 L696.0 353.3 L704.0 350.0 L712.0 347.3 L718.7 343.3 L724.0 337.3 L729.3 330.7 L733.3 325.3 L737.3 318.7 L761.3 318.7 L761.3 332.0 L754.7 340.0 L748.0 348.0 L741.3 354.7 L733.3 358.0 L724.0 357.3 L714.7 358.7 L705.3 360.0 L696.0 361.3ZM698.7 406.7 L702.7 402.7 L709.3 398.7 L716.0 394.7 L721.3 390.7 L725.3 389.3 L725.3 393.3 L720.0 398.0 L713.3 402.0 L705.3 406.0ZM741.3 400.0 L745.3 394.7 L750.7 390.7 L757.3 388.0 L761.3 386.7 L761.3 418.7 L756.0 416.0 L749.3 412.0 L744.0 408.0Z" clip-path="url(#tc14)"/><path d="M773.5 298.5 L778.0 297.0 L781.0 300.0 L779.5 303.0 L775.0 303.8ZM904.0 346.5 L910.0 343.5 L919.0 339.8 L928.0 339.0 L941.5 340.5 L941.5 346.5Z" clip-path="url(#tc18)"/><path d="M758.5 383.0 L766.0 380.0 L775.0 380.0 L782.5 383.0 L790.0 381.5 L796.0 380.0 L794.5 387.5 L793.0 395.0 L797.5 399.5 L805.0 402.5 L814.0 404.0 L818.5 407.0 L818.5 413.0 L812.5 413.0 L805.0 411.5 L796.0 411.5 L787.0 413.0 L778.0 414.5 L769.0 414.5 L758.5 414.5ZM865.0 378.5 L871.0 371.0 L877.0 363.5 L884.5 356.0 L892.0 351.5 L901.0 348.5 L910.0 347.0 L919.0 345.5 L928.0 344.0 L941.5 342.5 L941.5 378.5 L931.0 381.5 L922.0 386.0 L914.5 390.5 L907.0 393.5 L898.0 395.0 L890.5 392.0 L884.5 386.0 L878.5 381.5 L871.0 380.0Z" clip-path="url(#tc19)"/><path d="M770.8 405.8 L770.8 400.8 L773.3 395.0 L775.0 388.3 L778.3 383.3 L783.3 381.7 L788.3 380.0 L793.3 378.3 L798.3 376.7 L801.7 376.7 L800.0 381.7 L797.5 386.7 L796.7 391.7 L800.0 396.7 L804.2 401.7 L805.8 405.8Z" clip-path="url(#tc20)"/><path d="M780.0 428.0 L784.0 434.0 L794.0 440.0 L804.0 446.0 L812.0 452.0 L820.0 460.0 L828.0 468.0 L836.0 471.0 L846.0 470.0 L856.0 466.0 L860.0 460.0 L864.0 452.0 L868.0 444.0 L872.0 436.0 L874.0 428.0ZM902.0 520.0 L902.0 510.0 L906.0 500.0 L912.0 494.0 L918.0 494.0 L924.0 500.0 L926.0 510.0 L926.0 522.0 L922.0 532.0 L918.0 538.0 L912.0 534.0 L906.0 528.0Z" clip-path="url(#tc22)"/></g><g fill="#ffff00"><path d="M421.0 550.0 L424.0 544.0 L430.0 541.6 L437.0 541.6 L440.0 546.0 L438.0 554.0 L434.0 558.0 L428.0 559.0 L423.0 556.0ZM266.0 588.0 L270.0 585.0 L276.0 585.0 L277.0 589.0 L273.0 591.6 L268.0 592.0ZM295.0 612.0 L296.0 606.0 L299.0 605.0 L300.0 612.0ZM340.0 612.0 L342.0 604.0 L346.0 601.0 L349.0 605.0 L349.0 612.0ZM392.0 612.0 L404.0 606.0 L416.0 602.0 L426.0 597.0 L430.0 590.0 L434.0 586.0 L438.0 590.0 L441.0 596.0 L443.0 604.0 L444.0 612.0ZM498.0 532.0 L502.0 530.0 L502.0 542.0 L499.0 540.0Z" clip-path="url(#tc4)"/><path d="M498.0 529.0 L500.0 526.0 L502.4 527.0 L503.6 531.0 L501.0 534.0 L498.4 533.0ZM517.0 540.0 L520.0 532.0 L524.0 528.0 L529.0 534.0 L532.0 542.0 L533.0 548.0 L530.0 552.0 L524.0 552.0 L519.0 548.0ZM544.0 554.0 L546.0 550.0 L550.0 549.6 L553.0 553.0 L552.0 558.0 L548.0 560.0 L545.0 558.0ZM588.0 558.0 L589.0 552.0 L592.0 549.0 L596.0 552.0 L599.0 559.0 L598.0 566.0 L594.0 568.0 L590.0 566.0Z" clip-path="url(#tc5)"/><path d="M295.0 609.0 L296.0 606.0 L298.4 607.0 L298.4 611.0 L296.0 611.6ZM323.0 612.0 L330.0 609.0 L338.0 606.0 L342.0 602.0 L345.0 599.0 L348.0 598.0 L350.0 602.0 L350.0 608.0 L348.0 612.0 L344.0 615.0 L338.0 616.0 L330.0 615.6 L325.0 614.4ZM382.0 611.0 L390.0 608.0 L400.0 605.0 L408.0 602.0 L416.0 599.0 L424.0 597.0 L429.0 592.0 L432.0 589.0 L436.0 587.6 L440.0 588.4 L442.0 591.0 L444.0 598.0 L443.0 604.0 L439.0 608.0 L430.0 610.0 L418.0 611.0 L406.0 612.0 L396.0 612.4 L386.0 612.4Z" clip-path="url(#tc6)"/><path d="M597.5 315.0 L599.0 311.5 L603.0 309.0 L609.0 307.0 L615.0 305.5 L622.0 303.5 L626.0 303.0 L627.0 304.5 L624.0 307.0 L619.0 310.0 L614.0 314.0 L610.0 318.0 L606.0 319.5 L602.0 319.0 L598.5 317.5ZM634.0 331.5 L636.0 329.0 L640.0 328.0 L641.0 329.0 L639.0 331.0 L636.0 332.0ZM640.5 341.0 L641.0 337.0 L644.0 334.0 L646.0 333.0 L646.0 341.0Z" clip-path="url(#tc11)"/><path d="M609.3 307.7 L615.3 306.3 L622.0 303.7 L626.7 303.0 L627.0 304.3 L623.3 307.0 L618.7 310.3 L614.0 313.7 L609.3 315.7Z" clip-path="url(#tc12)"/><path d="M732.5 323.0 L734.0 319.0 L738.0 315.0 L744.0 311.0 L750.0 308.5 L756.0 307.0 L761.0 306.0 L761.0 341.0 L738.0 341.0 L736.0 335.0 L734.0 330.0Z" clip-path="url(#tc13)"/><path d="M634.0 331.3 L636.0 328.7 L640.0 328.0 L641.3 329.3 L638.7 331.3 L635.3 332.3ZM640.0 342.7 L641.3 337.3 L645.3 334.0 L650.0 333.3 L652.0 336.0 L650.7 340.0 L646.7 344.0 L642.7 345.3ZM652.0 353.3 L653.3 348.0 L657.3 341.3 L662.7 336.0 L668.0 332.0 L673.3 330.7 L676.0 333.3 L674.7 338.7 L669.3 342.7 L664.0 346.7 L658.7 350.7 L654.7 354.0ZM696.0 356.7 L701.3 353.3 L709.3 349.3 L717.3 345.3 L722.7 341.3 L726.7 342.7 L725.3 348.0 L720.0 353.3 L714.7 357.3 L709.3 360.0 L701.3 360.0ZM733.3 324.0 L736.0 318.7 L761.3 318.7 L761.3 332.0 L757.3 337.3 L753.3 340.0 L746.7 341.3 L741.3 341.3 L738.7 337.3 L736.0 332.0ZM704.0 402.7 L706.7 398.7 L712.0 394.7 L717.3 390.7 L721.3 388.7 L724.0 390.0 L721.3 394.7 L716.0 398.7 L710.7 402.0 L706.0 404.0ZM745.3 400.0 L748.0 396.0 L753.3 392.7 L758.7 392.0 L761.3 392.0 L761.3 402.7 L754.7 402.7 L748.0 402.0Z" clip-path="url(#tc14)"/><path d="M758.5 304.5 L769.0 301.5 L778.0 300.0 L784.0 303.0 L790.0 301.5 L796.0 301.5 L802.0 304.5 L800.5 309.0 L794.5 315.0 L787.0 319.5 L778.0 324.8 L769.0 329.2 L758.5 332.2ZM925.0 346.5 L928.0 343.5 L941.5 342.0 L941.5 346.5Z" clip-path="url(#tc18)"/><path d="M758.5 381.5 L764.5 377.8 L770.5 378.5 L772.0 384.5 L769.0 390.5 L764.5 395.0 L758.5 396.5ZM775.0 393.5 L777.2 390.5 L780.2 391.2 L781.0 395.0 L778.8 397.2 L775.8 396.5ZM763.0 410.0 L766.0 405.5 L770.5 405.5 L772.0 409.2 L769.0 413.8 L764.5 414.5ZM775.0 408.5 L778.0 402.5 L784.0 401.8 L786.2 405.5 L784.0 411.5 L778.0 413.0ZM790.0 403.2 L792.2 399.5 L796.0 399.5 L797.5 403.2 L796.0 407.0 L791.5 407.8ZM775.0 428.0 L781.0 422.8 L793.0 422.0 L805.0 420.5 L814.0 421.2 L818.5 426.5 L818.5 437.0 L814.0 443.0 L805.0 446.0 L796.0 443.0 L787.0 438.5 L778.0 434.0ZM827.5 431.0 L830.5 422.0 L835.0 414.5 L839.5 413.8 L844.0 419.0 L845.5 428.0 L842.5 435.5 L836.5 440.0 L830.5 438.5ZM826.0 471.5 L827.5 464.0 L833.5 458.0 L844.0 455.0 L854.5 450.5 L862.0 449.0 L865.0 453.5 L863.5 461.0 L859.0 467.0 L856.0 471.5ZM820.0 449.0 L823.0 446.0 L826.0 446.8 L824.5 450.5 L820.8 451.2ZM871.0 369.5 L874.0 362.0 L880.0 357.5 L889.0 353.0 L895.0 350.0 L899.5 353.0 L904.0 357.5 L910.0 359.0 L919.0 357.5 L925.0 348.5 L931.0 344.0 L937.0 344.0 L941.5 347.0 L941.5 365.0 L932.5 369.5 L925.0 374.0 L916.0 378.5 L910.0 384.5 L904.0 390.5 L898.0 395.0 L892.0 393.5 L889.0 389.0 L886.0 383.0 L880.0 378.5 L874.0 374.0Z" clip-path="url(#tc19)"/><path d="M760.0 388.3 L764.2 381.7 L768.3 378.3 L771.7 377.5 L773.3 380.0 L771.7 385.0 L769.2 390.0 L765.8 394.2 L762.5 397.5 L760.0 399.2ZM775.8 395.0 L777.5 390.0 L779.6 388.8 L780.8 391.7 L780.4 395.8 L778.3 396.7ZM776.7 405.8 L778.3 402.5 L781.7 401.2 L784.2 402.5 L785.0 405.8ZM790.0 405.8 L790.8 400.8 L793.3 399.2 L795.8 400.8 L796.7 405.8Z" clip-path="url(#tc20)"/><path d="M774.0 428.0 L778.0 432.0 L786.0 436.0 L796.0 438.0 L800.0 442.0 L804.0 446.0 L808.0 442.0 L814.0 438.0 L816.0 432.0 L818.0 428.0ZM828.0 428.0 L826.0 434.0 L830.0 439.0 L838.0 440.0 L842.0 436.0 L843.0 428.0ZM826.0 462.0 L832.0 456.0 L842.0 452.0 L852.0 448.0 L860.0 444.0 L865.0 446.0 L866.0 452.0 L862.0 460.0 L856.0 466.0 L848.0 470.0 L840.0 473.0 L832.0 472.0 L827.0 468.0ZM908.0 516.0 L908.0 506.0 L912.0 503.0 L918.0 503.0 L922.0 510.0 L923.0 520.0 L920.0 530.0 L916.0 534.0 L912.0 530.0 L909.0 524.0Z" clip-path="url(#tc22)"/></g><g fill="#ffc800"><path d="M424.0 548.0 L426.0 544.0 L430.0 543.0 L432.0 547.0 L429.0 551.0 L425.0 551.0ZM396.0 612.0 L404.0 607.0 L414.0 604.0 L424.0 600.0 L430.0 596.0 L434.0 595.0 L439.0 599.0 L441.0 604.0 L442.0 612.0Z" clip-path="url(#tc4)"/><path d="M520.0 540.0 L522.0 535.0 L525.0 533.0 L528.0 537.0 L530.0 543.0 L529.0 548.0 L525.0 549.0 L521.0 546.0ZM592.0 558.0 L593.0 555.0 L595.0 556.0 L595.6 561.0 L593.6 563.0 L592.0 561.0Z" clip-path="url(#tc5)"/><path d="M326.0 612.0 L331.0 610.0 L333.0 612.0 L330.0 614.0ZM342.0 604.0 L345.0 600.0 L348.0 602.0 L347.0 607.0 L344.0 608.0ZM388.0 610.0 L396.0 606.4 L404.0 603.6 L412.0 601.6 L420.0 599.0 L426.0 598.0 L432.0 596.0 L436.0 592.0 L439.0 594.0 L441.0 600.0 L440.0 605.0 L434.0 608.0 L424.0 609.0 L412.0 610.0 L400.0 611.0 L392.0 611.4Z" clip-path="url(#tc6)"/><path d="M741.0 324.0 L743.0 320.0 L748.0 315.0 L754.0 311.0 L761.0 309.0 L761.0 336.0 L756.0 335.0 L750.0 333.0 L745.0 330.0 L742.0 327.0Z" clip-path="url(#tc13)"/><path d="M741.3 325.3 L744.0 321.3 L746.7 318.7 L761.3 318.7 L761.3 330.7 L756.0 332.0 L749.3 332.0 L744.0 329.3ZM754.7 398.7 L757.3 394.7 L761.3 394.0 L761.3 400.0Z" clip-path="url(#tc14)"/><path d="M758.5 306.8 L767.5 304.5 L776.5 304.5 L784.0 306.0 L791.5 304.5 L796.0 306.8 L793.0 310.5 L787.0 315.0 L779.5 319.5 L770.5 324.0 L758.5 328.5Z" clip-path="url(#tc18)"/><path d="M758.5 384.5 L763.0 383.0 L766.0 386.0 L764.5 390.5 L758.5 392.8ZM778.0 428.0 L784.0 425.0 L793.0 425.0 L802.0 426.5 L809.5 425.0 L815.5 428.0 L815.5 437.0 L809.5 441.5 L802.0 440.0 L796.0 437.0 L787.0 434.0 L779.5 431.8ZM832.0 429.5 L835.0 425.0 L838.0 425.0 L840.2 428.8 L838.0 432.5 L834.2 433.2ZM838.0 471.5 L841.0 464.0 L848.5 459.5 L856.0 455.0 L860.5 454.2 L861.2 459.5 L857.5 465.5 L853.0 471.5ZM874.0 369.5 L877.0 365.0 L883.0 362.0 L889.0 360.5 L893.5 363.5 L895.0 368.0 L901.0 372.5 L910.0 371.0 L919.0 365.0 L928.0 362.0 L934.0 362.0 L935.5 368.0 L929.5 372.5 L922.0 377.0 L914.5 380.0 L907.0 383.0 L902.5 386.0 L899.5 383.0 L895.0 380.0 L889.0 377.0 L883.0 375.5 L877.0 374.0Z" clip-path="url(#tc19)"/><path d="M760.0 393.3 L762.5 388.3 L765.8 383.3 L767.5 381.7 L767.9 385.0 L765.8 390.0 L763.3 394.2 L760.8 396.7Z" clip-path="url(#tc20)"/><path d="M794.0 428.0 L798.0 434.0 L802.0 440.0 L808.0 440.0 L812.0 436.0 L814.0 428.0ZM836.0 462.0 L842.0 458.0 L852.0 454.0 L860.0 450.0 L862.0 453.0 L859.0 460.0 L852.0 465.0 L844.0 468.0 L838.0 467.0Z" clip-path="url(#tc22)"/></g><g fill="#ff6400"><path d="M400.0 612.0 L408.0 606.0 L418.0 604.0 L420.0 612.0ZM420.0 612.0 L424.0 602.0 L430.0 599.0 L436.0 600.0 L440.0 604.0 L441.0 612.0Z" clip-path="url(#tc4)"/><path d="M392.0 609.0 L398.0 605.0 L404.0 603.0 L410.0 604.0 L412.0 607.0 L408.0 610.0 L400.0 611.0ZM420.0 604.0 L423.0 599.0 L430.0 597.6 L438.0 599.0 L441.0 603.0 L438.0 607.0 L430.0 608.0 L423.0 607.0Z" clip-path="url(#tc6)"/><path d="M749.0 321.0 L751.0 317.0 L756.0 314.0 L761.0 313.0 L761.0 325.0 L755.0 324.0 L751.0 323.0Z" clip-path="url(#tc13)"/><path d="M748.0 318.7 L761.3 318.7 L761.3 325.3 L754.7 324.0 L750.7 322.0Z" clip-path="url(#tc14)"/><path d="M758.5 309.0 L766.0 307.5 L772.0 309.0 L773.5 313.5 L770.5 318.0 L764.5 321.8 L758.5 324.0Z" clip-path="url(#tc18)"/><path d="M800.5 432.5 L803.5 428.0 L808.0 427.2 L811.8 430.2 L811.0 435.5 L806.5 438.5 L802.8 437.8ZM845.5 465.5 L850.0 461.0 L856.0 457.2 L859.0 458.0 L857.5 462.5 L851.5 465.5 L847.0 467.0ZM880.0 369.5 L881.5 365.0 L886.0 362.8 L890.5 364.2 L891.2 369.5 L887.5 374.0 L883.0 374.0ZM910.0 372.5 L913.0 369.5 L919.0 367.2 L923.5 368.0 L922.0 371.8 L916.0 374.8 L911.5 375.5Z" clip-path="url(#tc19)"/><path d="M760.0 392.1 L760.8 391.2 L761.7 392.3 L760.7 393.2Z" clip-path="url(#tc20)"/><path d="M802.0 428.0 L804.0 434.0 L808.0 437.0 L812.0 434.0 L812.0 428.0ZM846.0 463.0 L852.0 458.0 L858.0 454.0 L860.0 456.0 L856.0 462.0 L850.0 465.0Z" clip-path="url(#tc22)"/></g><g fill="#ff0000"><path d="M402.0 612.0 L409.0 607.6 L417.0 607.0 L418.0 612.0ZM423.0 612.0 L426.0 604.0 L431.0 602.0 L436.0 603.2 L438.4 607.0 L439.0 612.0Z" clip-path="url(#tc4)"/><path d="M521.0 542.0 L523.0 538.0 L526.0 537.0 L528.4 541.0 L528.0 546.0 L525.0 547.6 L522.0 546.0Z" clip-path="url(#tc5)"/><path d="M394.0 608.0 L400.0 604.4 L405.0 604.0 L408.0 606.4 L404.0 609.0 L398.0 609.6ZM423.0 604.0 L426.0 600.0 L432.0 599.6 L437.0 601.0 L438.0 604.4 L434.0 607.0 L427.0 607.0Z" clip-path="url(#tc6)"/><path d="M758.5 312.0 L763.0 312.0 L766.0 314.2 L764.5 317.2 L758.5 318.8Z" clip-path="url(#tc18)"/><path d="M883.0 368.8 L884.5 365.8 L887.5 365.8 L889.0 368.8 L886.8 371.0 L883.8 371.0Z" clip-path="url(#tc19)"/></g><g fill="#5ffbfb"><path d="M799.3 359.3 L880.7 359.3 L880.7 420.7 L799.3 420.7Z" clip-path="url(#tc25)"/></g><g fill="#3a92f5"><path d="M799.3 359.3 L880.7 359.3 L880.7 420.7 L799.3 420.7Z" clip-path="url(#tc25)"/></g><g fill="#5ffbfb"><path d="M801.3 385.3 L802.7 380.0 L806.7 376.0 L812.0 373.3 L816.0 373.3 L820.0 371.3 L822.0 366.7 L823.3 362.7 L826.7 362.0 L830.0 364.0 L833.3 368.0 L837.3 373.3 L840.0 377.3 L839.3 382.0 L836.0 385.3 L831.3 388.0 L825.3 389.3 L818.7 390.0 L812.0 390.7 L805.3 390.7 L802.0 388.7ZM816.7 359.3 L831.3 359.3 L830.0 362.7 L826.7 363.3 L822.7 364.0 L818.7 362.7ZM850.7 364.0 L852.0 361.3 L856.0 359.3 L860.0 359.3 L858.7 362.7 L854.7 365.3 L852.0 366.0ZM852.0 401.3 L853.3 397.3 L856.0 396.0 L857.3 398.7 L858.0 403.3 L860.0 406.7 L863.3 402.7 L866.7 398.7 L869.3 396.0 L872.0 394.7 L874.7 396.0 L880.7 397.3 L880.7 420.7 L860.0 420.7 L856.7 412.0 L854.7 406.7Z" clip-path="url(#tc25)"/></g><g fill="#ffffff"><path d="M806.0 384.7 L806.7 380.0 L808.7 378.0 L811.3 378.7 L812.0 382.0 L810.7 385.3 L807.3 386.0ZM822.7 376.0 L823.3 372.0 L825.3 364.7 L828.0 365.3 L829.3 368.7 L832.7 373.3 L833.3 380.0 L831.3 384.0 L828.0 384.7 L824.0 384.0ZM820.0 359.3 L825.3 359.3 L824.7 362.7 L822.0 362.7ZM859.3 420.7 L862.7 414.7 L867.3 409.3 L871.3 405.3 L874.0 404.0 L874.7 406.7 L873.3 412.0 L870.7 416.7 L868.7 420.7Z" clip-path="url(#tc25)"/></g><g fill="#0a0af0"><path d="M818.7 396.7 L823.3 395.3 L828.0 397.3 L828.7 403.3 L828.0 410.7 L825.3 420.7 L822.0 420.7 L822.7 413.3 L820.0 408.0 L818.0 401.3Z" clip-path="url(#tc25)"/></g><g fill="#00f000" stroke="#0a0af0" stroke-width="2.6" stroke-linejoin="round"><path d="M799.3 364.0 L804.0 364.7 L809.0 364.0 L810.7 366.0 L808.0 370.0 L805.0 372.7 L802.0 376.7 L800.0 378.3 L799.3 378.7ZM828.0 420.7 L828.7 414.7 L828.7 406.7 L830.0 398.7 L834.7 393.3 L838.7 388.0 L842.7 383.3 L846.7 378.7 L850.7 373.3 L854.7 370.0 L858.7 367.3 L862.7 364.0 L865.3 361.3 L866.7 359.3 L880.7 359.3 L880.7 385.3 L873.3 386.0 L866.7 387.3 L861.3 385.3 L858.7 383.3 L856.0 388.0 L852.7 391.3 L849.3 394.0 L847.3 397.3 L846.7 403.3 L846.7 410.0 L848.0 414.7 L849.3 420.7ZM837.3 362.7 L838.7 359.3 L846.7 359.3 L846.0 362.0 L842.7 364.7 L840.0 366.0 L838.0 365.3ZM799.3 418.0 L803.0 414.0 L809.3 411.3 L816.0 410.0 L820.0 408.0 L822.0 406.7 L822.0 420.7 L799.3 420.7ZM799.3 393.0 L800.0 393.0 L806.0 398.0 L810.0 404.0 L811.0 409.0 L806.0 410.0 L799.3 410.7Z" clip-path="url(#tc25)"/></g><g fill="#3a92f5"><path d="M822.0 406.7 L824.0 405.3 L826.0 406.7 L826.0 412.0 L824.0 413.3 L822.3 411.3Z" clip-path="url(#tc25)"/></g><g fill="#00c200"><path d="M833.3 408.0 L834.7 400.0 L838.7 393.3 L843.3 388.0 L848.0 382.7 L852.0 377.3 L854.7 375.3 L855.3 378.7 L852.7 382.7 L849.3 386.7 L846.0 390.7 L843.3 396.0 L842.0 401.3 L840.0 408.0 L838.0 412.0 L834.7 412.0ZM866.7 380.0 L866.7 373.3 L870.0 368.0 L873.3 364.0 L876.7 361.3 L880.7 359.3 L880.7 381.3 L876.7 382.0 L872.0 382.0Z" clip-path="url(#tc25)"/></g><g fill="#008a00"><path d="M870.7 378.7 L872.0 372.0 L875.3 366.7 L880.7 364.0 L880.7 379.3 L875.3 380.0Z" clip-path="url(#tc25)"/></g><g fill="#ffff00"><path d="M872.0 370.0 L874.0 364.0 L877.3 360.7 L880.7 359.3 L880.7 377.3 L876.7 378.0 L872.7 375.3ZM832.0 420.7 L833.3 415.3 L836.0 412.7 L838.7 413.3 L840.0 416.7 L840.7 420.7Z" clip-path="url(#tc25)"/></g><g fill="#ffc800"><path d="M876.7 370.0 L878.0 365.3 L880.7 364.0 L880.7 373.3 L878.0 374.0Z" clip-path="url(#tc25)"/></g>
<g fill="none" stroke="#000" stroke-width="1.1" stroke-linejoin="round"><polyline points="278.4,80.0 288.0,95.0 295.6,102.4 301.0,113.0 304.0,121.6 322.4,129.6 326.0,139.0 318.0,136.0 311.0,141.6 317.0,147.0 322.4,156.0 318.0,163.0 307.6,161.6 298.4,165.4 291.6,159.6 278.4,171.0 295.0,179.0 309.0,191.6 319.0,189.6 325.6,195.0 327.6,209.0 328.0,222.0 324.6,233.0 333.0,229.6 330.0,239.0 321.0,243.0 313.6,249.6 303.0,252.0 301.0,258.0 300.0,260.0"/><polyline points="322.4,129.6 324.0,123.0 327.0,117.0 332.0,109.0 335.0,101.6 345.0,99.6 358.0,110.0 368.0,115.6 387.0,120.0 469.0,157.6 473.0,159.2 477.8,157.0 481.8,155.2 495.6,143.8 503.6,140.2"/><polyline points="326.0,79.0 335.0,87.0 349.6,94.0 355.6,103.0 373.0,110.0 391.0,113.6 400.0,117.6 408.0,123.6 420.0,125.6 430.0,125.6 440.0,128.0 458.0,136.0 469.2,135.6 478.4,139.4 488.4,137.6 495.6,131.8 499.0,121.6 497.2,109.0 498.8,98.0 495.6,87.8 490.6,79.0"/><polyline points="449.6,101.6 456.4,109.6 447.6,113.6 449.6,101.6"/><polyline points="301.0,257.0 300.0,261.0 305.6,271.6 301.0,278.0 294.0,284.0 288.0,293.6 293.0,301.0 291.0,314.0 293.0,326.0 298.0,334.0 305.0,353.0 318.0,373.0 331.0,393.6 348.0,401.0 359.0,401.0 380.0,405.0 390.0,409.6 403.0,421.0 414.0,438.0 415.0,440.0"/><polyline points="399.0,309.2 406.0,313.4"/><polyline points="468.0,385.0 469.0,400.0 472.0,411.6 481.6,409.0 475.0,415.0 464.0,430.4 455.0,429.0 453.0,439.0"/><polyline points="399.2,309.2 406.0,313.5 407.5,315.0"/><polyline points="407.5,315.0 411.2,351.5 420.0,357.5 430.5,373.5 439.0,377.2 449.0,379.2 456.0,385.5 468.5,385.5 468.5,390.0"/><polyline points="407.5,315.0 416.8,331.5 425.5,335.5 435.8,333.2 440.8,341.2 451.0,343.5 456.2,351.2 464.5,355.5 470.0,363.2 477.0,368.5 487.0,373.5 497.5,375.2 488.5,379.5 499.0,377.2 506.0,383.0 507.0,390.0"/><polyline points="421.8,343.2 432.5,345.5 437.2,353.0 427.5,355.5 420.2,349.5 421.8,343.2"/><polyline points="403.0,421.0 408.0,430.0 414.0,438.0 420.0,448.0 429.0,461.0 437.0,465.0 444.0,446.0 453.0,441.0 453.0,439.0"/><polyline points="500.0,378.0 506.0,383.0 508.0,395.0 515.0,402.0 520.0,410.0 525.0,417.0 525.0,432.0 520.0,438.0 518.0,450.0 530.0,466.0 544.0,479.0 554.0,477.0 573.0,483.0 591.0,487.0 611.0,495.0 621.0,511.0 630.0,512.0 658.0,524.0 672.0,538.0 678.0,545.0 692.0,552.0"/><polyline points="710.0,579.0 716.0,584.0 722.0,589.0"/><polyline points="720.0,640.0 717.0,644.0 720.0,646.0"/><polyline points="719.0,646.0 717.0,660.0 712.0,664.0 704.0,672.0 700.0,682.0 704.0,690.0 710.0,698.0 712.0,701.0"/><polyline points="673.6,79.0 674.4,90.0 676.4,106.0 681.0,120.0 686.0,130.0 690.6,140.0 700.0,154.4 702.8,163.6 712.2,161.6"/><polyline points="712.2,161.6 716.0,163.2 718.8,166.6 722.8,172.8 724.4,178.8 726.6,185.6 728.6,191.6 724.0,184.0 723.2,198.0 722.0,203.4 720.6,207.2 728.2,203.4 734.0,211.0 735.6,223.2 740.0,236.0 742.0,241.0"/><polyline points="495.6,143.8 503.6,140.2 511.0,133.6 519.6,130.0 526.0,135.6 538.0,135.6 545.6,142.0 553.6,146.0 561.0,154.0 569.6,157.6 580.0,148.0 583.0,157.6 588.0,165.4 605.0,173.6 608.0,182.0 610.4,195.6 622.0,195.6 631.0,199.6 640.0,195.6 649.0,199.6 662.0,211.6 672.0,209.6 681.0,205.6 689.6,199.6 700.0,197.4 707.2,194.0 714.4,188.0 711.6,164.0 712.2,161.6"/><polyline points="739.0,234.0 740.0,236.0 744.0,244.0 748.0,252.0 750.0,259.0"/><polyline points="750.0,259.0 755.0,268.0 760.0,279.8 769.0,294.0 776.5,307.5 784.0,318.0 787.0,321.0 791.5,325.5 798.2,333.5"/><polyline points="798.2,333.5 805.0,344.0 811.0,353.0 817.0,362.0 824.5,371.0 835.0,369.5 838.0,375.5 841.8,383.0 847.0,392.0 853.0,401.0 859.0,410.0 865.0,419.0 871.0,428.0 877.0,431.0 880.0,437.0 883.0,444.5 887.5,449.0 895.0,452.0 902.5,454.2 913.0,456.5 917.5,461.0 922.0,465.5 925.0,469.2 926.5,471.5"/><polyline points="925.0,469.0 928.0,470.0 936.0,478.0 940.0,482.0"/><polyline points="940.0,482.0 936.0,478.0 924.0,469.0 919.0,472.0 917.0,481.6 908.0,484.4 898.0,475.0 890.0,467.0 881.0,461.0 872.0,463.0 866.0,472.0 868.0,478.0 873.0,484.0 864.0,486.0 858.0,490.0 854.0,498.0 854.0,582.0 856.0,583.0 868.0,586.0 876.0,590.0 882.0,596.0 892.0,602.0 895.0,608.0"/><polyline points="692.0,552.0 700.0,565.1 708.0,572.0 712.0,580.0 720.0,588.0 725.3,602.7 722.7,613.3 724.0,624.0 728.0,632.0 721.3,638.7 717.3,645.3 726.7,644.0 718.7,648.0 717.3,660.0 708.0,668.0 700.0,681.3 709.3,697.3 722.7,710.7 729.3,718.7 737.3,722.7 749.3,720.0 766.7,728.0 784.0,736.0 788.0,729.3 788.8,716.0 785.3,705.3 778.7,696.0 764.0,689.3 757.3,678.7 751.5,660.0 773.3,656.8 784.0,673.3 800.0,680.8 810.7,682.7 817.3,688.0 806.7,688.8 810.7,694.7 821.3,698.7 813.3,702.7 817.3,710.7 821.3,722.7 816.0,730.7 814.7,741.3 826.7,752.0 837.3,757.3 845.3,766.7 853.3,780.0 860.0,796.0 860.8,814.7 867.2,814.7 869.3,802.7 866.1,793.3 866.7,766.7 873.3,757.3 890.7,750.7 900.0,748.5 920.0,752.0 928.0,755.5 941.3,759.2"/><polyline points="832.0,746.7 842.7,740.0 853.3,728.0 861.3,726.7 869.3,720.0 874.7,712.0 874.7,697.3 872.0,684.0 870.7,674.7 864.0,662.7 858.7,649.3 864.0,644.0 868.0,633.3 880.0,628.0 890.7,620.0 894.7,609.3 890.7,601.3 881.3,597.3 874.7,589.3 866.7,585.3 856.0,582.7 853.3,581.3"/><polyline points="832.0,746.7 853.3,764.0 857.3,782.7 861.3,798.7 862.7,814.7"/></g>
</g>
<g><line x1="262.60" y1="124.40" x2="937.40" y2="124.40" class="gh"/><line x1="262.60" y1="191.74" x2="937.40" y2="191.74" class="gh"/><line x1="262.60" y1="259.09" x2="937.40" y2="259.09" class="gh"/><line x1="262.60" y1="326.43" x2="937.40" y2="326.43" class="gh"/><line x1="262.60" y1="393.78" x2="937.40" y2="393.78" class="gh"/><line x1="262.60" y1="461.12" x2="937.40" y2="461.12" class="gh"/><line x1="262.60" y1="528.47" x2="937.40" y2="528.47" class="gh"/><line x1="262.60" y1="595.82" x2="937.40" y2="595.82" class="gh"/><line x1="262.60" y1="663.16" x2="937.40" y2="663.16" class="gh"/><line x1="262.60" y1="730.51" x2="937.40" y2="730.51" class="gh"/><line x1="262.60" y1="797.85" x2="937.40" y2="797.85" class="gh"/><line x1="301.16" y1="820.30" x2="301.16" y2="79.50" class="gv"/><line x1="359.00" y1="820.30" x2="359.00" y2="79.50" class="gv"/><line x1="416.84" y1="820.30" x2="416.84" y2="79.50" class="gv"/><line x1="474.68" y1="820.30" x2="474.68" y2="79.50" class="gv"/><line x1="532.52" y1="820.30" x2="532.52" y2="79.50" class="gv"/><line x1="590.36" y1="820.30" x2="590.36" y2="79.50" class="gv"/><line x1="648.20" y1="820.30" x2="648.20" y2="79.50" class="gv"/><line x1="706.04" y1="820.30" x2="706.04" y2="79.50" class="gv"/><line x1="763.88" y1="820.30" x2="763.88" y2="79.50" class="gv"/><line x1="821.72" y1="820.30" x2="821.72" y2="79.50" class="gv"/><line x1="879.56" y1="820.30" x2="879.56" y2="79.50" class="gv"/></g>
<rect x="262.60" y="79.50" width="674.80" height="740.80" fill="none" stroke="#000" stroke-width="1.4"/>
<path d="M257.00 124.40H262.60M257.00 191.74H262.60M257.00 259.09H262.60M257.00 326.43H262.60M257.00 393.78H262.60M257.00 461.12H262.60M257.00 528.47H262.60M257.00 595.82H262.60M257.00 663.16H262.60M257.00 730.51H262.60M257.00 797.85H262.60M301.16 820.30V825.70M359.00 820.30V825.70M416.84 820.30V825.70M474.68 820.30V825.70M532.52 820.30V825.70M590.36 820.30V825.70M648.20 820.30V825.70M706.04 820.30V825.70M763.88 820.30V825.70M821.72 820.30V825.70M879.56 820.30V825.70" stroke="#000" stroke-width="1.3" fill="none"/>
<g font-family="'Liberation Sans', sans-serif" fill="#000">
<text x="131.0" y="29.8" font-size="32" textLength="261.0" lengthAdjust="spacingAndGlyphs" stroke="#fff" stroke-width="0.9">IMN/SARAPIQUI_5</text>
<text x="408.4" y="29.8" font-size="32" textLength="192.2" lengthAdjust="spacingAndGlyphs" stroke="#fff" stroke-width="0.9">Precipitacion</text>
<text x="617.6" y="29.8" font-size="32" textLength="159.8" lengthAdjust="spacingAndGlyphs" stroke="#fff" stroke-width="0.9">Acumulada</text>
<text x="796.0" y="29.8" font-size="32" textLength="36.0" lengthAdjust="spacingAndGlyphs" stroke="#fff" stroke-width="0.9">en</text>
<text x="850.0" y="29.8" font-size="32" textLength="17.6" lengthAdjust="spacingAndGlyphs" stroke="#fff" stroke-width="0.9">6</text>
<text x="885.0" y="29.8" font-size="32" textLength="84.0" lengthAdjust="spacingAndGlyphs" stroke="#fff" stroke-width="0.9">horas</text>
<text x="985.0" y="29.8" font-size="32" textLength="82.0" lengthAdjust="spacingAndGlyphs" stroke="#fff" stroke-width="0.9">(mm)</text>
<text x="461.4" y="62.0" font-size="32" textLength="202.8" lengthAdjust="spacingAndGlyphs" stroke="#fff" stroke-width="0.9">2025-07-17</text>
<text x="683.6" y="62.0" font-size="32" textLength="54.4" lengthAdjust="spacingAndGlyphs" stroke="#fff" stroke-width="0.9">12Z</text>
<text x="253.4" y="130.4" font-size="17.2" text-anchor="end" textLength="43.0" lengthAdjust="spacingAndGlyphs">11.1N</text>
<text x="253.4" y="197.7" font-size="17.2" text-anchor="end" textLength="43.0" lengthAdjust="spacingAndGlyphs">10.8N</text>
<text x="253.4" y="265.1" font-size="17.2" text-anchor="end" textLength="43.0" lengthAdjust="spacingAndGlyphs">10.5N</text>
<text x="253.4" y="332.4" font-size="17.2" text-anchor="end" textLength="43.0" lengthAdjust="spacingAndGlyphs">10.2N</text>
<text x="253.4" y="399.8" font-size="17.2" text-anchor="end" textLength="34.3" lengthAdjust="spacingAndGlyphs">9.9N</text>
<text x="253.4" y="467.1" font-size="17.2" text-anchor="end" textLength="34.3" lengthAdjust="spacingAndGlyphs">9.6N</text>
<text x="253.4" y="534.5" font-size="17.2" text-anchor="end" textLength="34.3" lengthAdjust="spacingAndGlyphs">9.3N</text>
<text x="253.4" y="601.8" font-size="17.2" text-anchor="end" textLength="19.6" lengthAdjust="spacingAndGlyphs">9N</text>
<text x="253.4" y="669.2" font-size="17.2" text-anchor="end" textLength="34.3" lengthAdjust="spacingAndGlyphs">8.7N</text>
<text x="253.4" y="736.5" font-size="17.2" text-anchor="end" textLength="34.3" lengthAdjust="spacingAndGlyphs">8.4N</text>
<text x="253.4" y="803.9" font-size="17.2" text-anchor="end" textLength="34.3" lengthAdjust="spacingAndGlyphs">8.1N</text>
<text x="301.2" y="840.7" font-size="17.2" text-anchor="middle" textLength="45.2" lengthAdjust="spacingAndGlyphs">85.8W</text>
<text x="359.0" y="840.7" font-size="17.2" text-anchor="middle" textLength="45.2" lengthAdjust="spacingAndGlyphs">85.5W</text>
<text x="416.8" y="840.7" font-size="17.2" text-anchor="middle" textLength="45.2" lengthAdjust="spacingAndGlyphs">85.2W</text>
<text x="474.7" y="840.7" font-size="17.2" text-anchor="middle" textLength="45.2" lengthAdjust="spacingAndGlyphs">84.9W</text>
<text x="532.5" y="840.7" font-size="17.2" text-anchor="middle" textLength="45.2" lengthAdjust="spacingAndGlyphs">84.6W</text>
<text x="590.4" y="840.7" font-size="17.2" text-anchor="middle" textLength="45.2" lengthAdjust="spacingAndGlyphs">84.3W</text>
<text x="648.2" y="840.7" font-size="17.2" text-anchor="middle" textLength="30.9" lengthAdjust="spacingAndGlyphs">84W</text>
<text x="706.0" y="840.7" font-size="17.2" text-anchor="middle" textLength="45.2" lengthAdjust="spacingAndGlyphs">83.7W</text>
<text x="763.9" y="840.7" font-size="17.2" text-anchor="middle" textLength="45.2" lengthAdjust="spacingAndGlyphs">83.4W</text>
<text x="821.7" y="840.7" font-size="17.2" text-anchor="middle" textLength="45.2" lengthAdjust="spacingAndGlyphs">83.1W</text>
<text x="879.6" y="840.7" font-size="17.2" text-anchor="middle" textLength="45.2" lengthAdjust="spacingAndGlyphs">82.8W</text>
<text x="326.0" y="875.5" font-size="22.5" textLength="104.5" lengthAdjust="spacingAndGlyphs" stroke="#fff" stroke-width="0.7">Instituto</text>
<text x="445.0" y="875.5" font-size="22.5" textLength="175.5" lengthAdjust="spacingAndGlyphs" stroke="#fff" stroke-width="0.7">Meteorologico</text>
<text x="635.0" y="875.5" font-size="22.5" textLength="108.9" lengthAdjust="spacingAndGlyphs" stroke="#fff" stroke-width="0.7">Nacional</text>
<text x="758.0" y="875.5" font-size="22.5" textLength="70.9" lengthAdjust="spacingAndGlyphs" stroke="#fff" stroke-width="0.7">Costa</text>
<text x="843.5" y="875.5" font-size="22.5" textLength="54.4" lengthAdjust="spacingAndGlyphs" stroke="#fff" stroke-width="0.7">Rica</text>
</g>
<rect x="1057.90" y="132.20" width="21.40" height="42.35" fill="#f3f3f3" stroke="#000" stroke-width="1.3"/><rect x="1057.90" y="174.55" width="21.40" height="42.35" fill="#9632c8" stroke="#000" stroke-width="1.3"/><rect x="1057.90" y="216.90" width="21.40" height="42.35" fill="#ff00ff" stroke="#000" stroke-width="1.3"/><rect x="1057.90" y="259.25" width="21.40" height="42.35" fill="#960000" stroke="#000" stroke-width="1.3"/><rect x="1057.90" y="301.60" width="21.40" height="42.35" fill="#c83200" stroke="#000" stroke-width="1.3"/><rect x="1057.90" y="343.95" width="21.40" height="42.35" fill="#ff0000" stroke="#000" stroke-width="1.3"/><rect x="1057.90" y="386.30" width="21.40" height="42.35" fill="#ff6400" stroke="#000" stroke-width="1.3"/><rect x="1057.90" y="428.65" width="21.40" height="42.35" fill="#ffc800" stroke="#000" stroke-width="1.3"/><rect x="1057.90" y="471.00" width="21.40" height="42.35" fill="#ffff00" stroke="#000" stroke-width="1.3"/><rect x="1057.90" y="513.35" width="21.40" height="42.35" fill="#008a00" stroke="#000" stroke-width="1.3"/><rect x="1057.90" y="555.70" width="21.40" height="42.35" fill="#00c200" stroke="#000" stroke-width="1.3"/><rect x="1057.90" y="598.05" width="21.40" height="42.35" fill="#00f000" stroke="#000" stroke-width="1.3"/><rect x="1057.90" y="640.40" width="21.40" height="42.35" fill="#0a0af0" stroke="#000" stroke-width="1.3"/><rect x="1057.90" y="682.75" width="21.40" height="42.35" fill="#3a92f5" stroke="#000" stroke-width="1.3"/><rect x="1057.90" y="725.10" width="21.40" height="42.35" fill="#5ffbfb" stroke="#000" stroke-width="1.3"/><path d="M1057.90 132.20L1068.60 89.2L1079.30 132.20Z" fill="#a8a8a8" stroke="#000" stroke-width="1.3" stroke-linejoin="round"/><path d="M1057.90 767.45L1068.60 810.8L1079.30 767.45Z" fill="#fff" stroke="#000" stroke-width="1.3" stroke-linejoin="round"/>
<g font-family="'Liberation Sans', sans-serif" fill="#000">
<text x="1085.6" y="139.5" font-size="21" textLength="38.0" lengthAdjust="spacingAndGlyphs" stroke="#fff" stroke-width="0.2">200</text>
<text x="1085.6" y="181.8" font-size="21" textLength="38.0" lengthAdjust="spacingAndGlyphs" stroke="#fff" stroke-width="0.2">150</text>
<text x="1085.6" y="224.2" font-size="21" textLength="38.0" lengthAdjust="spacingAndGlyphs" stroke="#fff" stroke-width="0.2">120</text>
<text x="1085.6" y="266.6" font-size="21" textLength="38.0" lengthAdjust="spacingAndGlyphs" stroke="#fff" stroke-width="0.2">100</text>
<text x="1085.6" y="308.9" font-size="21" textLength="25.3" lengthAdjust="spacingAndGlyphs" stroke="#fff" stroke-width="0.2">90</text>
<text x="1085.6" y="351.2" font-size="21" textLength="25.3" lengthAdjust="spacingAndGlyphs" stroke="#fff" stroke-width="0.2">75</text>
<text x="1085.6" y="393.6" font-size="21" textLength="25.3" lengthAdjust="spacingAndGlyphs" stroke="#fff" stroke-width="0.2">60</text>
<text x="1085.6" y="435.9" font-size="21" textLength="25.3" lengthAdjust="spacingAndGlyphs" stroke="#fff" stroke-width="0.2">50</text>
<text x="1085.6" y="478.3" font-size="21" textLength="25.3" lengthAdjust="spacingAndGlyphs" stroke="#fff" stroke-width="0.2">40</text>
<text x="1085.6" y="520.6" font-size="21" textLength="25.3" lengthAdjust="spacingAndGlyphs" stroke="#fff" stroke-width="0.2">30</text>
<text x="1085.6" y="563.0" font-size="21" textLength="25.3" lengthAdjust="spacingAndGlyphs" stroke="#fff" stroke-width="0.2">25</text>
<text x="1085.6" y="605.3" font-size="21" textLength="25.3" lengthAdjust="spacingAndGlyphs" stroke="#fff" stroke-width="0.2">20</text>
<text x="1085.6" y="647.7" font-size="21" textLength="25.3" lengthAdjust="spacingAndGlyphs" stroke="#fff" stroke-width="0.2">15</text>
<text x="1085.6" y="690.0" font-size="21" textLength="44.0" lengthAdjust="spacingAndGlyphs" stroke="#fff" stroke-width="0.2">12.5</text>
<text x="1085.6" y="732.4" font-size="21" textLength="11.5" lengthAdjust="spacingAndGlyphs" stroke="#fff" stroke-width="0.2">7</text>
<text x="1085.6" y="774.8" font-size="21" textLength="31.8" lengthAdjust="spacingAndGlyphs" stroke="#fff" stroke-width="0.2">3.5</text>
</g>
</svg>
</body></html>
